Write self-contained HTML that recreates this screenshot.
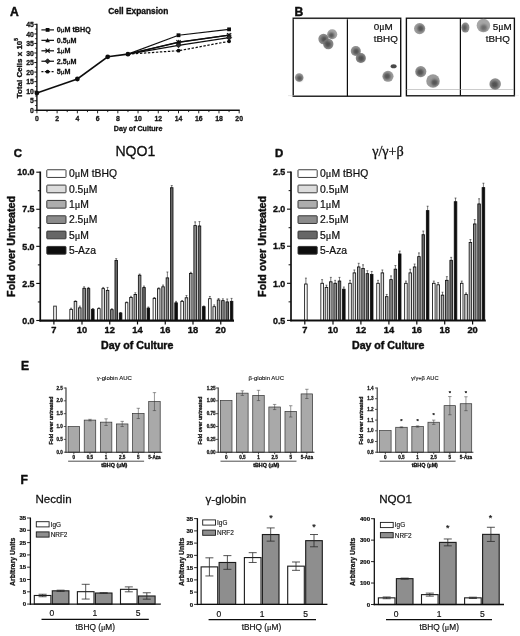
<!DOCTYPE html>
<html><head><meta charset="utf-8"><title>Figure</title>
<style>html,body{margin:0;padding:0;background:#fff;}svg{display:block;font-family:"Liberation Sans",sans-serif;}</style>
</head><body>
<svg width="520" height="636" viewBox="0 0 520 636">
<defs><filter id="soft" x="-30%" y="-30%" width="160%" height="160%"><feGaussianBlur stdDeviation="0.6"/></filter><filter id="soft2" x="-40%" y="-40%" width="180%" height="180%"><feGaussianBlur stdDeviation="1.0"/></filter>
<filter id="jpeg" x="0" y="0" width="100%" height="100%"><feGaussianBlur stdDeviation="0.35"/></filter></defs>
<rect x="0" y="0" width="520" height="636" fill="#ffffff"/>
<g filter="url(#jpeg)">
<text x="9.90" y="15.90" font-size="12.1" font-weight="bold" text-anchor="start" fill="#111" stroke="#111" stroke-width="0.484" stroke-linejoin="round">A</text>
<text x="138.30" y="14.20" font-size="8.4" font-weight="bold" text-anchor="middle" fill="#111" stroke="#111" stroke-width="0.336" stroke-linejoin="round">Cell Expansion</text>
<line x1="36.90" y1="23.85" x2="36.90" y2="111.00" stroke="#111" stroke-width="1.4"/>
<line x1="36.20" y1="110.30" x2="239.70" y2="110.30" stroke="#111" stroke-width="1.4"/>
<line x1="34.30" y1="110.30" x2="36.90" y2="110.30" stroke="#111" stroke-width="1.0"/>
<text x="33.90" y="112.90" font-size="6.9" font-weight="bold" text-anchor="end" fill="#111" stroke="#111" stroke-width="0.276" stroke-linejoin="round">0</text>
<line x1="34.30" y1="100.75" x2="36.90" y2="100.75" stroke="#111" stroke-width="1.0"/>
<text x="33.90" y="103.35" font-size="6.9" font-weight="bold" text-anchor="end" fill="#111" stroke="#111" stroke-width="0.276" stroke-linejoin="round">5</text>
<line x1="34.30" y1="91.20" x2="36.90" y2="91.20" stroke="#111" stroke-width="1.0"/>
<text x="33.90" y="93.80" font-size="6.9" font-weight="bold" text-anchor="end" fill="#111" stroke="#111" stroke-width="0.276" stroke-linejoin="round">10</text>
<line x1="34.30" y1="81.65" x2="36.90" y2="81.65" stroke="#111" stroke-width="1.0"/>
<text x="33.90" y="84.25" font-size="6.9" font-weight="bold" text-anchor="end" fill="#111" stroke="#111" stroke-width="0.276" stroke-linejoin="round">15</text>
<line x1="34.30" y1="72.10" x2="36.90" y2="72.10" stroke="#111" stroke-width="1.0"/>
<text x="33.90" y="74.70" font-size="6.9" font-weight="bold" text-anchor="end" fill="#111" stroke="#111" stroke-width="0.276" stroke-linejoin="round">20</text>
<line x1="34.30" y1="62.55" x2="36.90" y2="62.55" stroke="#111" stroke-width="1.0"/>
<text x="33.90" y="65.15" font-size="6.9" font-weight="bold" text-anchor="end" fill="#111" stroke="#111" stroke-width="0.276" stroke-linejoin="round">25</text>
<line x1="34.30" y1="53.00" x2="36.90" y2="53.00" stroke="#111" stroke-width="1.0"/>
<text x="33.90" y="55.60" font-size="6.9" font-weight="bold" text-anchor="end" fill="#111" stroke="#111" stroke-width="0.276" stroke-linejoin="round">30</text>
<line x1="34.30" y1="43.45" x2="36.90" y2="43.45" stroke="#111" stroke-width="1.0"/>
<text x="33.90" y="46.05" font-size="6.9" font-weight="bold" text-anchor="end" fill="#111" stroke="#111" stroke-width="0.276" stroke-linejoin="round">35</text>
<line x1="34.30" y1="33.90" x2="36.90" y2="33.90" stroke="#111" stroke-width="1.0"/>
<text x="33.90" y="36.50" font-size="6.9" font-weight="bold" text-anchor="end" fill="#111" stroke="#111" stroke-width="0.276" stroke-linejoin="round">40</text>
<line x1="34.30" y1="24.35" x2="36.90" y2="24.35" stroke="#111" stroke-width="1.0"/>
<text x="33.90" y="26.95" font-size="6.9" font-weight="bold" text-anchor="end" fill="#111" stroke="#111" stroke-width="0.276" stroke-linejoin="round">45</text>
<line x1="35.20" y1="105.52" x2="36.90" y2="105.52" stroke="#111" stroke-width="0.9"/>
<line x1="35.20" y1="95.97" x2="36.90" y2="95.97" stroke="#111" stroke-width="0.9"/>
<line x1="35.20" y1="86.42" x2="36.90" y2="86.42" stroke="#111" stroke-width="0.9"/>
<line x1="35.20" y1="76.88" x2="36.90" y2="76.88" stroke="#111" stroke-width="0.9"/>
<line x1="35.20" y1="67.32" x2="36.90" y2="67.32" stroke="#111" stroke-width="0.9"/>
<line x1="35.20" y1="57.77" x2="36.90" y2="57.77" stroke="#111" stroke-width="0.9"/>
<line x1="35.20" y1="48.23" x2="36.90" y2="48.23" stroke="#111" stroke-width="0.9"/>
<line x1="35.20" y1="38.67" x2="36.90" y2="38.67" stroke="#111" stroke-width="0.9"/>
<line x1="35.20" y1="29.12" x2="36.90" y2="29.12" stroke="#111" stroke-width="0.9"/>
<line x1="36.90" y1="110.30" x2="36.90" y2="113.30" stroke="#111" stroke-width="0.9"/>
<text x="36.90" y="120.50" font-size="6.9" font-weight="bold" text-anchor="middle" fill="#111" stroke="#111" stroke-width="0.276" stroke-linejoin="round">0</text>
<line x1="47.02" y1="110.30" x2="47.02" y2="112.10" stroke="#111" stroke-width="0.9"/>
<line x1="57.13" y1="110.30" x2="57.13" y2="113.30" stroke="#111" stroke-width="0.9"/>
<text x="57.13" y="120.50" font-size="6.9" font-weight="bold" text-anchor="middle" fill="#111" stroke="#111" stroke-width="0.276" stroke-linejoin="round">2</text>
<line x1="67.25" y1="110.30" x2="67.25" y2="112.10" stroke="#111" stroke-width="0.9"/>
<line x1="77.36" y1="110.30" x2="77.36" y2="113.30" stroke="#111" stroke-width="0.9"/>
<text x="77.36" y="120.50" font-size="6.9" font-weight="bold" text-anchor="middle" fill="#111" stroke="#111" stroke-width="0.276" stroke-linejoin="round">4</text>
<line x1="87.47" y1="110.30" x2="87.47" y2="112.10" stroke="#111" stroke-width="0.9"/>
<line x1="97.59" y1="110.30" x2="97.59" y2="113.30" stroke="#111" stroke-width="0.9"/>
<text x="97.59" y="120.50" font-size="6.9" font-weight="bold" text-anchor="middle" fill="#111" stroke="#111" stroke-width="0.276" stroke-linejoin="round">6</text>
<line x1="107.71" y1="110.30" x2="107.71" y2="112.10" stroke="#111" stroke-width="0.9"/>
<line x1="117.82" y1="110.30" x2="117.82" y2="113.30" stroke="#111" stroke-width="0.9"/>
<text x="117.82" y="120.50" font-size="6.9" font-weight="bold" text-anchor="middle" fill="#111" stroke="#111" stroke-width="0.276" stroke-linejoin="round">8</text>
<line x1="127.94" y1="110.30" x2="127.94" y2="112.10" stroke="#111" stroke-width="0.9"/>
<line x1="138.05" y1="110.30" x2="138.05" y2="113.30" stroke="#111" stroke-width="0.9"/>
<text x="138.05" y="120.50" font-size="6.9" font-weight="bold" text-anchor="middle" fill="#111" stroke="#111" stroke-width="0.276" stroke-linejoin="round">10</text>
<line x1="148.16" y1="110.30" x2="148.16" y2="112.10" stroke="#111" stroke-width="0.9"/>
<line x1="158.28" y1="110.30" x2="158.28" y2="113.30" stroke="#111" stroke-width="0.9"/>
<text x="158.28" y="120.50" font-size="6.9" font-weight="bold" text-anchor="middle" fill="#111" stroke="#111" stroke-width="0.276" stroke-linejoin="round">12</text>
<line x1="168.40" y1="110.30" x2="168.40" y2="112.10" stroke="#111" stroke-width="0.9"/>
<line x1="178.51" y1="110.30" x2="178.51" y2="113.30" stroke="#111" stroke-width="0.9"/>
<text x="178.51" y="120.50" font-size="6.9" font-weight="bold" text-anchor="middle" fill="#111" stroke="#111" stroke-width="0.276" stroke-linejoin="round">14</text>
<line x1="188.62" y1="110.30" x2="188.62" y2="112.10" stroke="#111" stroke-width="0.9"/>
<line x1="198.74" y1="110.30" x2="198.74" y2="113.30" stroke="#111" stroke-width="0.9"/>
<text x="198.74" y="120.50" font-size="6.9" font-weight="bold" text-anchor="middle" fill="#111" stroke="#111" stroke-width="0.276" stroke-linejoin="round">16</text>
<line x1="208.86" y1="110.30" x2="208.86" y2="112.10" stroke="#111" stroke-width="0.9"/>
<line x1="218.97" y1="110.30" x2="218.97" y2="113.30" stroke="#111" stroke-width="0.9"/>
<text x="218.97" y="120.50" font-size="6.9" font-weight="bold" text-anchor="middle" fill="#111" stroke="#111" stroke-width="0.276" stroke-linejoin="round">18</text>
<line x1="229.09" y1="110.30" x2="229.09" y2="112.10" stroke="#111" stroke-width="0.9"/>
<line x1="239.20" y1="110.30" x2="239.20" y2="113.30" stroke="#111" stroke-width="0.9"/>
<text x="239.20" y="120.50" font-size="6.9" font-weight="bold" text-anchor="middle" fill="#111" stroke="#111" stroke-width="0.276" stroke-linejoin="round">20</text>
<text x="138.10" y="130.50" font-size="7.1" font-weight="bold" text-anchor="middle" fill="#111" stroke="#111" stroke-width="0.284" stroke-linejoin="round">Day of Culture</text>
<text x="21.90" y="68.20" font-size="8.0" font-weight="bold" text-anchor="middle" fill="#111" transform="rotate(-90 21.90 68.20)" stroke="#111" stroke-width="0.320" stroke-linejoin="round">Total Cells x 10<tspan font-size="4.8" dy="-3.4">5</tspan></text>
<polyline points="36.90,93.11 77.36,78.98 107.71,56.82 127.94,54.15" fill="none" stroke="#111" stroke-width="1.6"/>
<polyline points="127.94,54.15 178.51,35.24 229.09,29.32" fill="none" stroke="#111" stroke-width="1.25"/>
<polyline points="127.94,54.15 178.51,42.02 229.09,35.05" fill="none" stroke="#111" stroke-width="1.25"/>
<polyline points="127.94,54.15 178.51,42.30 229.09,35.24" fill="none" stroke="#111" stroke-width="1.25"/>
<polyline points="127.94,54.15 178.51,45.26 229.09,37.72" fill="none" stroke="#111" stroke-width="1.25"/>
<polyline points="127.94,54.15 178.51,50.71 229.09,41.35" fill="none" stroke="#111" stroke-width="1.25" stroke-dasharray="2.4 1.6"/>
<circle cx="36.90" cy="93.11" r="2.4" fill="#111"/>
<circle cx="77.36" cy="78.98" r="2.4" fill="#111"/>
<circle cx="107.71" cy="56.82" r="2.4" fill="#111"/>
<circle cx="127.94" cy="54.15" r="2.4" fill="#111"/>
<rect x="176.61" y="33.34" width="3.8" height="3.8" fill="#111"/>
<rect x="227.19" y="27.42" width="3.8" height="3.8" fill="#111"/>
<polygon points="178.51,39.62 176.21,43.82 180.81,43.82" fill="#111"/>
<polygon points="229.09,32.65 226.78,36.85 231.39,36.85" fill="#111"/>
<line x1="176.41" y1="40.20" x2="180.61" y2="44.40" stroke="#111" stroke-width="1.1"/>
<line x1="176.41" y1="44.40" x2="180.61" y2="40.20" stroke="#111" stroke-width="1.1"/>
<line x1="176.11" y1="42.30" x2="180.91" y2="42.30" stroke="#111" stroke-width="0.8"/>
<line x1="226.99" y1="33.14" x2="231.19" y2="37.34" stroke="#111" stroke-width="1.1"/>
<line x1="226.99" y1="37.34" x2="231.19" y2="33.14" stroke="#111" stroke-width="1.1"/>
<line x1="226.69" y1="35.24" x2="231.49" y2="35.24" stroke="#111" stroke-width="0.8"/>
<polygon points="178.51,42.76 176.01,45.26 178.51,47.76 181.01,45.26" fill="#2a2a2a" stroke="#111" stroke-width="0.8"/>
<polygon points="229.09,35.22 226.59,37.72 229.09,40.22 231.59,37.72" fill="#2a2a2a" stroke="#111" stroke-width="0.8"/>
<circle cx="178.51" cy="50.71" r="1.9" fill="#111"/>
<circle cx="229.09" cy="41.35" r="1.9" fill="#111"/>
<line x1="41.40" y1="29.90" x2="54.00" y2="29.90" stroke="#111" stroke-width="1.2"/>
<rect x="45.70" y="28.00" width="3.8" height="3.8" fill="#111"/>
<text x="56.70" y="32.45" font-size="7.15" font-weight="bold" text-anchor="start" fill="#111" stroke="#111" stroke-width="0.286" stroke-linejoin="round">0<tspan font-family="Liberation Serif, serif" font-weight="normal">&#956;</tspan>M tBHQ</text>
<line x1="41.40" y1="40.35" x2="54.00" y2="40.35" stroke="#111" stroke-width="1.2"/>
<polygon points="47.60,37.95 45.30,42.15 49.90,42.15" fill="#111"/>
<text x="56.70" y="42.90" font-size="7.15" font-weight="bold" text-anchor="start" fill="#111" stroke="#111" stroke-width="0.286" stroke-linejoin="round">0.5<tspan font-family="Liberation Serif, serif" font-weight="normal">&#956;</tspan>M</text>
<line x1="41.40" y1="50.80" x2="54.00" y2="50.80" stroke="#111" stroke-width="1.2"/>
<line x1="45.50" y1="48.70" x2="49.70" y2="52.90" stroke="#111" stroke-width="1.1"/>
<line x1="45.50" y1="52.90" x2="49.70" y2="48.70" stroke="#111" stroke-width="1.1"/>
<line x1="45.20" y1="50.80" x2="50.00" y2="50.80" stroke="#111" stroke-width="0.8"/>
<text x="56.70" y="53.35" font-size="7.15" font-weight="bold" text-anchor="start" fill="#111" stroke="#111" stroke-width="0.286" stroke-linejoin="round">1<tspan font-family="Liberation Serif, serif" font-weight="normal">&#956;</tspan>M</text>
<line x1="41.40" y1="61.25" x2="54.00" y2="61.25" stroke="#111" stroke-width="1.2"/>
<polygon points="47.60,58.75 45.10,61.25 47.60,63.75 50.10,61.25" fill="#2a2a2a" stroke="#111" stroke-width="0.8"/>
<text x="56.70" y="63.80" font-size="7.15" font-weight="bold" text-anchor="start" fill="#111" stroke="#111" stroke-width="0.286" stroke-linejoin="round">2.5<tspan font-family="Liberation Serif, serif" font-weight="normal">&#956;</tspan>M</text>
<line x1="41.40" y1="71.70" x2="54.00" y2="71.70" stroke="#111" stroke-width="1.2" stroke-dasharray="2 1.4"/>
<circle cx="47.60" cy="71.70" r="1.9" fill="#111"/>
<text x="56.70" y="74.25" font-size="7.15" font-weight="bold" text-anchor="start" fill="#111" stroke="#111" stroke-width="0.286" stroke-linejoin="round">5<tspan font-family="Liberation Serif, serif" font-weight="normal">&#956;</tspan>M</text>
<text x="294.40" y="15.90" font-size="12.1" font-weight="bold" text-anchor="start" fill="#111" stroke="#111" stroke-width="0.484" stroke-linejoin="round">B</text>
<rect x="293.20" y="18.20" width="107.50" height="78.00" fill="none" stroke="#111" stroke-width="1.35"/>
<line x1="347.40" y1="18.20" x2="347.40" y2="96.20" stroke="#111" stroke-width="1.2"/>
<line x1="293.50" y1="19.60" x2="400.50" y2="19.60" stroke="#ddd" stroke-width="0.4"/>
<line x1="288.00" y1="95.60" x2="294.00" y2="95.60" stroke="#ccc" stroke-width="0.5"/>
<circle cx="299.20" cy="77.50" r="4.25" fill="#8a8a8a" opacity="0.88" filter="url(#soft)"/>
<circle cx="299.50" cy="78.30" r="2.70" fill="#3c3c3c" opacity="0.75" filter="url(#soft2)"/>
<circle cx="323.50" cy="39.00" r="5.15" fill="#7d7d7d" opacity="0.88" filter="url(#soft)"/>
<circle cx="324.10" cy="39.20" r="2.90" fill="#3c3c3c" opacity="0.75" filter="url(#soft2)"/>
<circle cx="328.30" cy="44.00" r="5.15" fill="#7a7a7a" opacity="0.88" filter="url(#soft)"/>
<circle cx="327.90" cy="44.30" r="3.10" fill="#3c3c3c" opacity="0.75" filter="url(#soft2)"/>
<circle cx="332.20" cy="34.30" r="5.05" fill="#999" opacity="0.88" filter="url(#soft)"/>
<circle cx="331.40" cy="35.30" r="2.80" fill="#3c3c3c" opacity="0.75" filter="url(#soft2)"/>
<circle cx="355.80" cy="51.00" r="5.05" fill="#858585" opacity="0.88" filter="url(#soft)"/>
<circle cx="356.20" cy="51.50" r="3.00" fill="#3c3c3c" opacity="0.75" filter="url(#soft2)"/>
<circle cx="360.80" cy="58.00" r="5.05" fill="#777" opacity="0.88" filter="url(#soft)"/>
<circle cx="361.10" cy="58.30" r="3.10" fill="#3c3c3c" opacity="0.75" filter="url(#soft2)"/>
<circle cx="388.00" cy="76.30" r="5.55" fill="#909090" opacity="0.88" filter="url(#soft)"/>
<circle cx="387.20" cy="76.30" r="3.30" fill="#3c3c3c" opacity="0.75" filter="url(#soft2)"/>
<ellipse cx="393.6" cy="66.2" rx="3.0" ry="2.0" fill="#4a4a4a" filter="url(#soft)"/>
<text x="373.80" y="30.40" font-size="9.9" font-weight="normal" text-anchor="start" fill="#111" stroke="#111" stroke-width="0.218" stroke-linejoin="round">0<tspan font-family="Liberation Serif, serif" font-weight="normal">&#956;</tspan>M</text>
<text x="373.80" y="42.20" font-size="9.8" font-weight="normal" text-anchor="start" fill="#111" stroke="#111" stroke-width="0.216" stroke-linejoin="round">tBHQ</text>
<rect x="406.40" y="18.20" width="108.00" height="77.60" fill="none" stroke="#111" stroke-width="1.35"/>
<line x1="460.40" y1="18.20" x2="460.40" y2="95.80" stroke="#111" stroke-width="1.2"/>
<line x1="406.50" y1="89.50" x2="514.00" y2="89.50" stroke="#aaa" stroke-width="0.6"/>
<line x1="514.60" y1="95.40" x2="519.00" y2="95.40" stroke="#ddd" stroke-width="0.5"/>
<circle cx="419.60" cy="28.60" r="5.55" fill="#8f8f8f" opacity="0.88" filter="url(#soft)"/>
<circle cx="420.60" cy="28.40" r="3.10" fill="#3c3c3c" opacity="0.75" filter="url(#soft2)"/>
<circle cx="420.80" cy="71.60" r="5.55" fill="#858585" opacity="0.88" filter="url(#soft)"/>
<circle cx="420.20" cy="72.20" r="3.30" fill="#3c3c3c" opacity="0.75" filter="url(#soft2)"/>
<circle cx="433.00" cy="81.00" r="6.75" fill="#8c8c8c" opacity="0.88" filter="url(#soft)"/>
<circle cx="434.60" cy="82.60" r="3.30" fill="#3c3c3c" opacity="0.75" filter="url(#soft2)"/>
<ellipse cx="465.4" cy="27.6" rx="4.0" ry="5.0" fill="#858585" opacity="0.9" filter="url(#soft)"/>
<ellipse cx="464.6" cy="27.8" rx="2.2" ry="3.2" fill="#484848" opacity="0.8" filter="url(#soft2)"/>
<circle cx="483.40" cy="25.40" r="6.75" fill="#9a9a9a" opacity="0.88" filter="url(#soft)"/>
<circle cx="483.70" cy="27.80" r="3.30" fill="#5a5a5a" opacity="0.75" filter="url(#soft2)"/>
<circle cx="495.20" cy="84.00" r="5.75" fill="#7f7f7f" opacity="0.88" filter="url(#soft)"/>
<circle cx="494.60" cy="84.60" r="3.50" fill="#3c3c3c" opacity="0.75" filter="url(#soft2)"/>
<text x="492.80" y="30.40" font-size="9.9" font-weight="normal" text-anchor="start" fill="#111" stroke="#111" stroke-width="0.218" stroke-linejoin="round">5<tspan font-family="Liberation Serif, serif" font-weight="normal">&#956;</tspan>M</text>
<text x="485.80" y="42.20" font-size="9.8" font-weight="normal" text-anchor="start" fill="#111" stroke="#111" stroke-width="0.216" stroke-linejoin="round">tBHQ</text>
<text x="13.70" y="157.40" font-size="11.4" font-weight="bold" text-anchor="start" fill="#111" stroke="#111" stroke-width="0.456" stroke-linejoin="round">C</text>
<text x="135.40" y="155.70" font-size="14.1" font-weight="normal" text-anchor="middle" fill="#111" stroke="#111" stroke-width="0.310" stroke-linejoin="round">NQO1</text>
<rect x="53.73" y="306.11" width="2.55" height="14.39" fill="#ffffff" stroke="#141414" stroke-width="0.85"/>
<line x1="71.12" y1="308.19" x2="71.12" y2="309.38" stroke="#111" stroke-width="0.55"/>
<line x1="70.17" y1="308.19" x2="72.08" y2="308.19" stroke="#111" stroke-width="0.55"/>
<line x1="70.17" y1="309.38" x2="72.08" y2="309.38" stroke="#111" stroke-width="0.55"/>
<rect x="69.85" y="309.38" width="2.55" height="11.12" fill="#ffffff" stroke="#141414" stroke-width="0.85"/>
<line x1="75.47" y1="300.78" x2="75.47" y2="301.52" stroke="#111" stroke-width="0.55"/>
<line x1="74.52" y1="300.78" x2="76.42" y2="300.78" stroke="#111" stroke-width="0.55"/>
<line x1="74.52" y1="301.52" x2="76.42" y2="301.52" stroke="#111" stroke-width="0.55"/>
<rect x="74.19" y="301.52" width="2.55" height="18.98" fill="#dcdcdc" stroke="#141414" stroke-width="0.85"/>
<line x1="79.81" y1="306.11" x2="79.81" y2="307.89" stroke="#111" stroke-width="0.55"/>
<line x1="78.86" y1="306.11" x2="80.76" y2="306.11" stroke="#111" stroke-width="0.55"/>
<line x1="78.86" y1="307.89" x2="80.76" y2="307.89" stroke="#111" stroke-width="0.55"/>
<rect x="78.53" y="307.89" width="2.55" height="12.61" fill="#adadad" stroke="#141414" stroke-width="0.85"/>
<line x1="84.14" y1="286.84" x2="84.14" y2="288.32" stroke="#111" stroke-width="0.55"/>
<line x1="83.19" y1="286.84" x2="85.09" y2="286.84" stroke="#111" stroke-width="0.55"/>
<line x1="83.19" y1="288.32" x2="85.09" y2="288.32" stroke="#111" stroke-width="0.55"/>
<rect x="82.87" y="288.32" width="2.55" height="32.18" fill="#8b8b8b" stroke="#141414" stroke-width="0.85"/>
<line x1="88.48" y1="287.43" x2="88.48" y2="288.62" stroke="#111" stroke-width="0.55"/>
<line x1="87.53" y1="287.43" x2="89.44" y2="287.43" stroke="#111" stroke-width="0.55"/>
<line x1="87.53" y1="288.62" x2="89.44" y2="288.62" stroke="#111" stroke-width="0.55"/>
<rect x="87.21" y="288.62" width="2.55" height="31.88" fill="#666666" stroke="#141414" stroke-width="0.85"/>
<line x1="92.83" y1="308.49" x2="92.83" y2="309.38" stroke="#111" stroke-width="0.55"/>
<line x1="91.88" y1="308.49" x2="93.78" y2="308.49" stroke="#111" stroke-width="0.55"/>
<line x1="91.88" y1="309.38" x2="93.78" y2="309.38" stroke="#111" stroke-width="0.55"/>
<rect x="91.55" y="309.38" width="2.55" height="11.12" fill="#0a0a0a" stroke="#141414" stroke-width="0.85"/>
<line x1="98.88" y1="307.89" x2="98.88" y2="308.64" stroke="#111" stroke-width="0.55"/>
<line x1="97.92" y1="307.89" x2="99.83" y2="307.89" stroke="#111" stroke-width="0.55"/>
<line x1="97.92" y1="308.64" x2="99.83" y2="308.64" stroke="#111" stroke-width="0.55"/>
<rect x="97.60" y="308.64" width="2.55" height="11.86" fill="#ffffff" stroke="#141414" stroke-width="0.85"/>
<line x1="103.22" y1="287.43" x2="103.22" y2="288.62" stroke="#111" stroke-width="0.55"/>
<line x1="102.27" y1="287.43" x2="104.17" y2="287.43" stroke="#111" stroke-width="0.55"/>
<line x1="102.27" y1="288.62" x2="104.17" y2="288.62" stroke="#111" stroke-width="0.55"/>
<rect x="101.94" y="288.62" width="2.55" height="31.88" fill="#dcdcdc" stroke="#141414" stroke-width="0.85"/>
<line x1="107.56" y1="287.43" x2="107.56" y2="290.40" stroke="#111" stroke-width="0.55"/>
<line x1="106.61" y1="287.43" x2="108.51" y2="287.43" stroke="#111" stroke-width="0.55"/>
<line x1="106.61" y1="290.40" x2="108.51" y2="290.40" stroke="#111" stroke-width="0.55"/>
<rect x="106.28" y="290.40" width="2.55" height="30.10" fill="#adadad" stroke="#141414" stroke-width="0.85"/>
<line x1="111.89" y1="308.78" x2="111.89" y2="309.67" stroke="#111" stroke-width="0.55"/>
<line x1="110.94" y1="308.78" x2="112.84" y2="308.78" stroke="#111" stroke-width="0.55"/>
<line x1="110.94" y1="309.67" x2="112.84" y2="309.67" stroke="#111" stroke-width="0.55"/>
<rect x="110.62" y="309.67" width="2.55" height="10.83" fill="#8b8b8b" stroke="#141414" stroke-width="0.85"/>
<line x1="116.23" y1="258.66" x2="116.23" y2="260.44" stroke="#111" stroke-width="0.55"/>
<line x1="115.28" y1="258.66" x2="117.19" y2="258.66" stroke="#111" stroke-width="0.55"/>
<line x1="115.28" y1="260.44" x2="117.19" y2="260.44" stroke="#111" stroke-width="0.55"/>
<rect x="114.96" y="260.44" width="2.55" height="60.06" fill="#666666" stroke="#141414" stroke-width="0.85"/>
<line x1="120.58" y1="312.49" x2="120.58" y2="313.08" stroke="#111" stroke-width="0.55"/>
<line x1="119.62" y1="312.49" x2="121.53" y2="312.49" stroke="#111" stroke-width="0.55"/>
<line x1="119.62" y1="313.08" x2="121.53" y2="313.08" stroke="#111" stroke-width="0.55"/>
<rect x="119.30" y="313.08" width="2.55" height="7.42" fill="#0a0a0a" stroke="#141414" stroke-width="0.85"/>
<line x1="126.62" y1="301.96" x2="126.62" y2="302.70" stroke="#111" stroke-width="0.55"/>
<line x1="125.67" y1="301.96" x2="127.58" y2="301.96" stroke="#111" stroke-width="0.55"/>
<line x1="125.67" y1="302.70" x2="127.58" y2="302.70" stroke="#111" stroke-width="0.55"/>
<rect x="125.35" y="302.70" width="2.55" height="17.80" fill="#ffffff" stroke="#141414" stroke-width="0.85"/>
<line x1="130.97" y1="296.33" x2="130.97" y2="297.51" stroke="#111" stroke-width="0.55"/>
<line x1="130.02" y1="296.33" x2="131.91" y2="296.33" stroke="#111" stroke-width="0.55"/>
<line x1="130.02" y1="297.51" x2="131.91" y2="297.51" stroke="#111" stroke-width="0.55"/>
<rect x="129.69" y="297.51" width="2.55" height="22.99" fill="#dcdcdc" stroke="#141414" stroke-width="0.85"/>
<line x1="135.31" y1="292.77" x2="135.31" y2="294.55" stroke="#111" stroke-width="0.55"/>
<line x1="134.36" y1="292.77" x2="136.25" y2="292.77" stroke="#111" stroke-width="0.55"/>
<line x1="134.36" y1="294.55" x2="136.25" y2="294.55" stroke="#111" stroke-width="0.55"/>
<rect x="134.03" y="294.55" width="2.55" height="25.95" fill="#adadad" stroke="#141414" stroke-width="0.85"/>
<line x1="139.65" y1="274.08" x2="139.65" y2="275.27" stroke="#111" stroke-width="0.55"/>
<line x1="138.70" y1="274.08" x2="140.59" y2="274.08" stroke="#111" stroke-width="0.55"/>
<line x1="138.70" y1="275.27" x2="140.59" y2="275.27" stroke="#111" stroke-width="0.55"/>
<rect x="138.37" y="275.27" width="2.55" height="45.23" fill="#8b8b8b" stroke="#141414" stroke-width="0.85"/>
<line x1="143.98" y1="286.09" x2="143.98" y2="287.58" stroke="#111" stroke-width="0.55"/>
<line x1="143.03" y1="286.09" x2="144.93" y2="286.09" stroke="#111" stroke-width="0.55"/>
<line x1="143.03" y1="287.58" x2="144.93" y2="287.58" stroke="#111" stroke-width="0.55"/>
<rect x="142.71" y="287.58" width="2.55" height="32.92" fill="#666666" stroke="#141414" stroke-width="0.85"/>
<line x1="148.32" y1="307.00" x2="148.32" y2="308.19" stroke="#111" stroke-width="0.55"/>
<line x1="147.38" y1="307.00" x2="149.27" y2="307.00" stroke="#111" stroke-width="0.55"/>
<line x1="147.38" y1="308.19" x2="149.27" y2="308.19" stroke="#111" stroke-width="0.55"/>
<rect x="147.05" y="308.19" width="2.55" height="12.31" fill="#0a0a0a" stroke="#141414" stroke-width="0.85"/>
<line x1="154.38" y1="297.51" x2="154.38" y2="298.40" stroke="#111" stroke-width="0.55"/>
<line x1="153.43" y1="297.51" x2="155.32" y2="297.51" stroke="#111" stroke-width="0.55"/>
<line x1="153.43" y1="298.40" x2="155.32" y2="298.40" stroke="#111" stroke-width="0.55"/>
<rect x="153.10" y="298.40" width="2.55" height="22.10" fill="#ffffff" stroke="#141414" stroke-width="0.85"/>
<line x1="158.72" y1="287.87" x2="158.72" y2="288.76" stroke="#111" stroke-width="0.55"/>
<line x1="157.77" y1="287.87" x2="159.66" y2="287.87" stroke="#111" stroke-width="0.55"/>
<line x1="157.77" y1="288.76" x2="159.66" y2="288.76" stroke="#111" stroke-width="0.55"/>
<rect x="157.44" y="288.76" width="2.55" height="31.74" fill="#dcdcdc" stroke="#141414" stroke-width="0.85"/>
<line x1="163.06" y1="285.06" x2="163.06" y2="286.84" stroke="#111" stroke-width="0.55"/>
<line x1="162.11" y1="285.06" x2="164.00" y2="285.06" stroke="#111" stroke-width="0.55"/>
<line x1="162.11" y1="286.84" x2="164.00" y2="286.84" stroke="#111" stroke-width="0.55"/>
<rect x="161.78" y="286.84" width="2.55" height="33.66" fill="#adadad" stroke="#141414" stroke-width="0.85"/>
<line x1="167.40" y1="272.01" x2="167.40" y2="277.94" stroke="#111" stroke-width="0.55"/>
<line x1="166.45" y1="272.01" x2="168.34" y2="272.01" stroke="#111" stroke-width="0.55"/>
<line x1="166.45" y1="277.94" x2="168.34" y2="277.94" stroke="#111" stroke-width="0.55"/>
<rect x="166.12" y="277.94" width="2.55" height="42.56" fill="#8b8b8b" stroke="#141414" stroke-width="0.85"/>
<line x1="171.73" y1="185.55" x2="171.73" y2="187.77" stroke="#111" stroke-width="0.55"/>
<line x1="170.78" y1="185.55" x2="172.68" y2="185.55" stroke="#111" stroke-width="0.55"/>
<line x1="170.78" y1="187.77" x2="172.68" y2="187.77" stroke="#111" stroke-width="0.55"/>
<rect x="170.46" y="187.77" width="2.55" height="132.73" fill="#666666" stroke="#141414" stroke-width="0.85"/>
<line x1="176.07" y1="301.37" x2="176.07" y2="302.85" stroke="#111" stroke-width="0.55"/>
<line x1="175.12" y1="301.37" x2="177.02" y2="301.37" stroke="#111" stroke-width="0.55"/>
<line x1="175.12" y1="302.85" x2="177.02" y2="302.85" stroke="#111" stroke-width="0.55"/>
<rect x="174.80" y="302.85" width="2.55" height="17.65" fill="#0a0a0a" stroke="#141414" stroke-width="0.85"/>
<line x1="182.12" y1="300.48" x2="182.12" y2="301.37" stroke="#111" stroke-width="0.55"/>
<line x1="181.18" y1="300.48" x2="183.07" y2="300.48" stroke="#111" stroke-width="0.55"/>
<line x1="181.18" y1="301.37" x2="183.07" y2="301.37" stroke="#111" stroke-width="0.55"/>
<rect x="180.85" y="301.37" width="2.55" height="19.13" fill="#ffffff" stroke="#141414" stroke-width="0.85"/>
<line x1="186.47" y1="295.59" x2="186.47" y2="297.81" stroke="#111" stroke-width="0.55"/>
<line x1="185.52" y1="295.59" x2="187.41" y2="295.59" stroke="#111" stroke-width="0.55"/>
<line x1="185.52" y1="297.81" x2="187.41" y2="297.81" stroke="#111" stroke-width="0.55"/>
<rect x="185.19" y="297.81" width="2.55" height="22.69" fill="#dcdcdc" stroke="#141414" stroke-width="0.85"/>
<line x1="190.81" y1="272.30" x2="190.81" y2="273.49" stroke="#111" stroke-width="0.55"/>
<line x1="189.86" y1="272.30" x2="191.75" y2="272.30" stroke="#111" stroke-width="0.55"/>
<line x1="189.86" y1="273.49" x2="191.75" y2="273.49" stroke="#111" stroke-width="0.55"/>
<rect x="189.53" y="273.49" width="2.55" height="47.01" fill="#adadad" stroke="#141414" stroke-width="0.85"/>
<line x1="195.15" y1="221.88" x2="195.15" y2="225.59" stroke="#111" stroke-width="0.55"/>
<line x1="194.20" y1="221.88" x2="196.09" y2="221.88" stroke="#111" stroke-width="0.55"/>
<line x1="194.20" y1="225.59" x2="196.09" y2="225.59" stroke="#111" stroke-width="0.55"/>
<rect x="193.87" y="225.59" width="2.55" height="94.91" fill="#8b8b8b" stroke="#141414" stroke-width="0.85"/>
<line x1="199.48" y1="221.58" x2="199.48" y2="226.03" stroke="#111" stroke-width="0.55"/>
<line x1="198.53" y1="221.58" x2="200.43" y2="221.58" stroke="#111" stroke-width="0.55"/>
<line x1="198.53" y1="226.03" x2="200.43" y2="226.03" stroke="#111" stroke-width="0.55"/>
<rect x="198.21" y="226.03" width="2.55" height="94.47" fill="#666666" stroke="#141414" stroke-width="0.85"/>
<line x1="203.82" y1="305.97" x2="203.82" y2="306.71" stroke="#111" stroke-width="0.55"/>
<line x1="202.88" y1="305.97" x2="204.77" y2="305.97" stroke="#111" stroke-width="0.55"/>
<line x1="202.88" y1="306.71" x2="204.77" y2="306.71" stroke="#111" stroke-width="0.55"/>
<rect x="202.55" y="306.71" width="2.55" height="13.79" fill="#0a0a0a" stroke="#141414" stroke-width="0.85"/>
<line x1="209.88" y1="296.48" x2="209.88" y2="298.70" stroke="#111" stroke-width="0.55"/>
<line x1="208.93" y1="296.48" x2="210.82" y2="296.48" stroke="#111" stroke-width="0.55"/>
<line x1="208.93" y1="298.70" x2="210.82" y2="298.70" stroke="#111" stroke-width="0.55"/>
<rect x="208.60" y="298.70" width="2.55" height="21.80" fill="#ffffff" stroke="#141414" stroke-width="0.85"/>
<line x1="214.22" y1="304.93" x2="214.22" y2="306.71" stroke="#111" stroke-width="0.55"/>
<line x1="213.27" y1="304.93" x2="215.16" y2="304.93" stroke="#111" stroke-width="0.55"/>
<line x1="213.27" y1="306.71" x2="215.16" y2="306.71" stroke="#111" stroke-width="0.55"/>
<rect x="212.94" y="306.71" width="2.55" height="13.79" fill="#dcdcdc" stroke="#141414" stroke-width="0.85"/>
<line x1="218.56" y1="298.55" x2="218.56" y2="300.03" stroke="#111" stroke-width="0.55"/>
<line x1="217.61" y1="298.55" x2="219.50" y2="298.55" stroke="#111" stroke-width="0.55"/>
<line x1="217.61" y1="300.03" x2="219.50" y2="300.03" stroke="#111" stroke-width="0.55"/>
<rect x="217.28" y="300.03" width="2.55" height="20.47" fill="#adadad" stroke="#141414" stroke-width="0.85"/>
<line x1="222.90" y1="298.85" x2="222.90" y2="300.63" stroke="#111" stroke-width="0.55"/>
<line x1="221.95" y1="298.85" x2="223.84" y2="298.85" stroke="#111" stroke-width="0.55"/>
<line x1="221.95" y1="300.63" x2="223.84" y2="300.63" stroke="#111" stroke-width="0.55"/>
<rect x="221.62" y="300.63" width="2.55" height="19.87" fill="#8b8b8b" stroke="#141414" stroke-width="0.85"/>
<line x1="227.23" y1="299.00" x2="227.23" y2="301.96" stroke="#111" stroke-width="0.55"/>
<line x1="226.28" y1="299.00" x2="228.18" y2="299.00" stroke="#111" stroke-width="0.55"/>
<line x1="226.28" y1="301.96" x2="228.18" y2="301.96" stroke="#111" stroke-width="0.55"/>
<rect x="225.96" y="301.96" width="2.55" height="18.54" fill="#666666" stroke="#141414" stroke-width="0.85"/>
<line x1="231.57" y1="298.40" x2="231.57" y2="301.37" stroke="#111" stroke-width="0.55"/>
<line x1="230.62" y1="298.40" x2="232.52" y2="298.40" stroke="#111" stroke-width="0.55"/>
<line x1="230.62" y1="301.37" x2="232.52" y2="301.37" stroke="#111" stroke-width="0.55"/>
<rect x="230.30" y="301.37" width="2.55" height="19.13" fill="#0a0a0a" stroke="#141414" stroke-width="0.85"/>
<line x1="40.25" y1="171.50" x2="40.25" y2="321.40" stroke="#111" stroke-width="1.7"/>
<line x1="39.40" y1="320.60" x2="234.00" y2="320.60" stroke="#111" stroke-width="2.1"/>
<line x1="36.25" y1="320.50" x2="40.25" y2="320.50" stroke="#111" stroke-width="1.1"/>
<text x="34.55" y="323.70" font-size="8.9" font-weight="bold" text-anchor="end" fill="#111" stroke="#111" stroke-width="0.356" stroke-linejoin="round">0.0</text>
<line x1="36.25" y1="283.43" x2="40.25" y2="283.43" stroke="#111" stroke-width="1.1"/>
<text x="34.55" y="286.62" font-size="8.9" font-weight="bold" text-anchor="end" fill="#111" stroke="#111" stroke-width="0.356" stroke-linejoin="round">2.5</text>
<line x1="36.25" y1="246.35" x2="40.25" y2="246.35" stroke="#111" stroke-width="1.1"/>
<text x="34.55" y="249.55" font-size="8.9" font-weight="bold" text-anchor="end" fill="#111" stroke="#111" stroke-width="0.356" stroke-linejoin="round">5.0</text>
<line x1="36.25" y1="209.28" x2="40.25" y2="209.28" stroke="#111" stroke-width="1.1"/>
<text x="34.55" y="212.47" font-size="8.9" font-weight="bold" text-anchor="end" fill="#111" stroke="#111" stroke-width="0.356" stroke-linejoin="round">7.5</text>
<line x1="36.25" y1="172.20" x2="40.25" y2="172.20" stroke="#111" stroke-width="1.1"/>
<text x="34.55" y="175.40" font-size="8.9" font-weight="bold" text-anchor="end" fill="#111" stroke="#111" stroke-width="0.356" stroke-linejoin="round">10.0</text>
<line x1="37.85" y1="301.96" x2="40.25" y2="301.96" stroke="#111" stroke-width="1.0"/>
<line x1="37.85" y1="264.89" x2="40.25" y2="264.89" stroke="#111" stroke-width="1.0"/>
<line x1="37.85" y1="227.81" x2="40.25" y2="227.81" stroke="#111" stroke-width="1.0"/>
<line x1="37.85" y1="190.74" x2="40.25" y2="190.74" stroke="#111" stroke-width="1.0"/>
<line x1="53.90" y1="320.50" x2="53.90" y2="324.50" stroke="#111" stroke-width="1.2"/>
<text x="53.90" y="333.10" font-size="9.3" font-weight="bold" text-anchor="middle" fill="#111" stroke="#111" stroke-width="0.372" stroke-linejoin="round">7</text>
<line x1="82.00" y1="320.50" x2="82.00" y2="324.50" stroke="#111" stroke-width="1.2"/>
<text x="82.00" y="333.10" font-size="9.3" font-weight="bold" text-anchor="middle" fill="#111" stroke="#111" stroke-width="0.372" stroke-linejoin="round">10</text>
<line x1="109.75" y1="320.50" x2="109.75" y2="324.50" stroke="#111" stroke-width="1.2"/>
<text x="109.75" y="333.10" font-size="9.3" font-weight="bold" text-anchor="middle" fill="#111" stroke="#111" stroke-width="0.372" stroke-linejoin="round">12</text>
<line x1="137.50" y1="320.50" x2="137.50" y2="324.50" stroke="#111" stroke-width="1.2"/>
<text x="137.50" y="333.10" font-size="9.3" font-weight="bold" text-anchor="middle" fill="#111" stroke="#111" stroke-width="0.372" stroke-linejoin="round">14</text>
<line x1="165.25" y1="320.50" x2="165.25" y2="324.50" stroke="#111" stroke-width="1.2"/>
<text x="165.25" y="333.10" font-size="9.3" font-weight="bold" text-anchor="middle" fill="#111" stroke="#111" stroke-width="0.372" stroke-linejoin="round">16</text>
<line x1="193.00" y1="320.50" x2="193.00" y2="324.50" stroke="#111" stroke-width="1.2"/>
<text x="193.00" y="333.10" font-size="9.3" font-weight="bold" text-anchor="middle" fill="#111" stroke="#111" stroke-width="0.372" stroke-linejoin="round">18</text>
<line x1="220.75" y1="320.50" x2="220.75" y2="324.50" stroke="#111" stroke-width="1.2"/>
<text x="220.75" y="333.10" font-size="9.3" font-weight="bold" text-anchor="middle" fill="#111" stroke="#111" stroke-width="0.372" stroke-linejoin="round">20</text>
<text x="137.20" y="348.80" font-size="10.6" font-weight="bold" text-anchor="middle" fill="#111" stroke="#111" stroke-width="0.424" stroke-linejoin="round">Day of Culture</text>
<text x="15.10" y="246.40" font-size="10.7" font-weight="bold" text-anchor="middle" fill="#111" transform="rotate(-90 15.10 246.40)" stroke="#111" stroke-width="0.428" stroke-linejoin="round">Fold over Untreated</text>
<rect x="46.80" y="169.75" width="19.2" height="7.7" rx="0.7" fill="#ffffff" stroke="#333" stroke-width="0.95"/>
<text x="68.90" y="177.20" font-size="10.35" font-weight="normal" text-anchor="start" fill="#111" stroke="#111" stroke-width="0.228" stroke-linejoin="round">0<tspan font-family="Liberation Serif, serif" font-weight="normal">&#956;</tspan>M tBHQ</text>
<rect x="46.80" y="185.09" width="19.2" height="7.7" rx="0.7" fill="#dcdcdc" stroke="#333" stroke-width="0.95"/>
<text x="68.90" y="192.54" font-size="10.35" font-weight="normal" text-anchor="start" fill="#111" stroke="#111" stroke-width="0.228" stroke-linejoin="round">0.5<tspan font-family="Liberation Serif, serif" font-weight="normal">&#956;</tspan>M</text>
<rect x="46.80" y="200.43" width="19.2" height="7.7" rx="0.7" fill="#adadad" stroke="#333" stroke-width="0.95"/>
<text x="68.90" y="207.88" font-size="10.35" font-weight="normal" text-anchor="start" fill="#111" stroke="#111" stroke-width="0.228" stroke-linejoin="round">1<tspan font-family="Liberation Serif, serif" font-weight="normal">&#956;</tspan>M</text>
<rect x="46.80" y="215.77" width="19.2" height="7.7" rx="0.7" fill="#8b8b8b" stroke="#333" stroke-width="0.95"/>
<text x="68.90" y="223.22" font-size="10.35" font-weight="normal" text-anchor="start" fill="#111" stroke="#111" stroke-width="0.228" stroke-linejoin="round">2.5<tspan font-family="Liberation Serif, serif" font-weight="normal">&#956;</tspan>M</text>
<rect x="46.80" y="231.11" width="19.2" height="7.7" rx="0.7" fill="#666666" stroke="#333" stroke-width="0.95"/>
<text x="68.90" y="238.56" font-size="10.35" font-weight="normal" text-anchor="start" fill="#111" stroke="#111" stroke-width="0.228" stroke-linejoin="round">5<tspan font-family="Liberation Serif, serif" font-weight="normal">&#956;</tspan>M</text>
<rect x="46.80" y="246.45" width="19.2" height="7.7" rx="0.7" fill="#0a0a0a" stroke="#333" stroke-width="0.95"/>
<text x="68.90" y="253.90" font-size="10.35" font-weight="normal" text-anchor="start" fill="#111" stroke="#111" stroke-width="0.228" stroke-linejoin="round">5-Aza</text>
<text x="275.00" y="157.40" font-size="11.4" font-weight="bold" text-anchor="start" fill="#111" stroke="#111" stroke-width="0.456" stroke-linejoin="round">D</text>
<text x="388.00" y="155.70" font-size="14.2" font-weight="normal" text-anchor="middle" fill="#111" font-family='"Liberation Serif", serif' stroke="#111" stroke-width="0.312" stroke-linejoin="round">&#947;/&#947;+&#946;</text>
<line x1="305.90" y1="278.13" x2="305.90" y2="284.07" stroke="#111" stroke-width="0.55"/>
<line x1="304.95" y1="278.13" x2="306.85" y2="278.13" stroke="#111" stroke-width="0.55"/>
<line x1="304.95" y1="284.07" x2="306.85" y2="284.07" stroke="#111" stroke-width="0.55"/>
<rect x="304.62" y="284.07" width="2.55" height="36.33" fill="#ffffff" stroke="#141414" stroke-width="0.85"/>
<line x1="322.12" y1="279.62" x2="322.12" y2="283.32" stroke="#111" stroke-width="0.55"/>
<line x1="321.18" y1="279.62" x2="323.07" y2="279.62" stroke="#111" stroke-width="0.55"/>
<line x1="321.18" y1="283.32" x2="323.07" y2="283.32" stroke="#111" stroke-width="0.55"/>
<rect x="320.85" y="283.32" width="2.55" height="37.07" fill="#ffffff" stroke="#141414" stroke-width="0.85"/>
<line x1="326.46" y1="285.18" x2="326.46" y2="287.40" stroke="#111" stroke-width="0.55"/>
<line x1="325.51" y1="285.18" x2="327.41" y2="285.18" stroke="#111" stroke-width="0.55"/>
<line x1="325.51" y1="287.40" x2="327.41" y2="287.40" stroke="#111" stroke-width="0.55"/>
<rect x="325.19" y="287.40" width="2.55" height="33.00" fill="#dcdcdc" stroke="#141414" stroke-width="0.85"/>
<line x1="330.81" y1="277.39" x2="330.81" y2="281.84" stroke="#111" stroke-width="0.55"/>
<line x1="329.86" y1="277.39" x2="331.75" y2="277.39" stroke="#111" stroke-width="0.55"/>
<line x1="329.86" y1="281.84" x2="331.75" y2="281.84" stroke="#111" stroke-width="0.55"/>
<rect x="329.53" y="281.84" width="2.55" height="38.56" fill="#adadad" stroke="#141414" stroke-width="0.85"/>
<line x1="335.14" y1="280.36" x2="335.14" y2="283.32" stroke="#111" stroke-width="0.55"/>
<line x1="334.19" y1="280.36" x2="336.09" y2="280.36" stroke="#111" stroke-width="0.55"/>
<line x1="334.19" y1="283.32" x2="336.09" y2="283.32" stroke="#111" stroke-width="0.55"/>
<rect x="333.87" y="283.32" width="2.55" height="37.07" fill="#8b8b8b" stroke="#141414" stroke-width="0.85"/>
<line x1="339.49" y1="277.39" x2="339.49" y2="281.10" stroke="#111" stroke-width="0.55"/>
<line x1="338.54" y1="277.39" x2="340.44" y2="277.39" stroke="#111" stroke-width="0.55"/>
<line x1="338.54" y1="281.10" x2="340.44" y2="281.10" stroke="#111" stroke-width="0.55"/>
<rect x="338.21" y="281.10" width="2.55" height="39.30" fill="#666666" stroke="#141414" stroke-width="0.85"/>
<line x1="343.82" y1="287.03" x2="343.82" y2="289.26" stroke="#111" stroke-width="0.55"/>
<line x1="342.88" y1="287.03" x2="344.77" y2="287.03" stroke="#111" stroke-width="0.55"/>
<line x1="342.88" y1="289.26" x2="344.77" y2="289.26" stroke="#111" stroke-width="0.55"/>
<rect x="342.55" y="289.26" width="2.55" height="31.14" fill="#0a0a0a" stroke="#141414" stroke-width="0.85"/>
<line x1="350.02" y1="280.36" x2="350.02" y2="283.32" stroke="#111" stroke-width="0.55"/>
<line x1="349.07" y1="280.36" x2="350.97" y2="280.36" stroke="#111" stroke-width="0.55"/>
<line x1="349.07" y1="283.32" x2="350.97" y2="283.32" stroke="#111" stroke-width="0.55"/>
<rect x="348.75" y="283.32" width="2.55" height="37.07" fill="#ffffff" stroke="#141414" stroke-width="0.85"/>
<line x1="354.36" y1="269.98" x2="354.36" y2="272.94" stroke="#111" stroke-width="0.55"/>
<line x1="353.41" y1="269.98" x2="355.31" y2="269.98" stroke="#111" stroke-width="0.55"/>
<line x1="353.41" y1="272.94" x2="355.31" y2="272.94" stroke="#111" stroke-width="0.55"/>
<rect x="353.09" y="272.94" width="2.55" height="47.46" fill="#dcdcdc" stroke="#141414" stroke-width="0.85"/>
<line x1="358.70" y1="263.30" x2="358.70" y2="267.01" stroke="#111" stroke-width="0.55"/>
<line x1="357.75" y1="263.30" x2="359.65" y2="263.30" stroke="#111" stroke-width="0.55"/>
<line x1="357.75" y1="267.01" x2="359.65" y2="267.01" stroke="#111" stroke-width="0.55"/>
<rect x="357.43" y="267.01" width="2.55" height="53.39" fill="#adadad" stroke="#141414" stroke-width="0.85"/>
<line x1="363.04" y1="264.79" x2="363.04" y2="268.50" stroke="#111" stroke-width="0.55"/>
<line x1="362.09" y1="264.79" x2="363.99" y2="264.79" stroke="#111" stroke-width="0.55"/>
<line x1="362.09" y1="268.50" x2="363.99" y2="268.50" stroke="#111" stroke-width="0.55"/>
<rect x="361.77" y="268.50" width="2.55" height="51.90" fill="#8b8b8b" stroke="#141414" stroke-width="0.85"/>
<line x1="367.38" y1="270.72" x2="367.38" y2="273.69" stroke="#111" stroke-width="0.55"/>
<line x1="366.44" y1="270.72" x2="368.33" y2="270.72" stroke="#111" stroke-width="0.55"/>
<line x1="366.44" y1="273.69" x2="368.33" y2="273.69" stroke="#111" stroke-width="0.55"/>
<rect x="366.11" y="273.69" width="2.55" height="46.71" fill="#666666" stroke="#141414" stroke-width="0.85"/>
<line x1="371.72" y1="271.46" x2="371.72" y2="274.43" stroke="#111" stroke-width="0.55"/>
<line x1="370.77" y1="271.46" x2="372.67" y2="271.46" stroke="#111" stroke-width="0.55"/>
<line x1="370.77" y1="274.43" x2="372.67" y2="274.43" stroke="#111" stroke-width="0.55"/>
<rect x="370.45" y="274.43" width="2.55" height="45.97" fill="#0a0a0a" stroke="#141414" stroke-width="0.85"/>
<line x1="378.02" y1="280.36" x2="378.02" y2="283.32" stroke="#111" stroke-width="0.55"/>
<line x1="377.07" y1="280.36" x2="378.97" y2="280.36" stroke="#111" stroke-width="0.55"/>
<line x1="377.07" y1="283.32" x2="378.97" y2="283.32" stroke="#111" stroke-width="0.55"/>
<rect x="376.75" y="283.32" width="2.55" height="37.07" fill="#ffffff" stroke="#141414" stroke-width="0.85"/>
<line x1="382.36" y1="269.98" x2="382.36" y2="272.94" stroke="#111" stroke-width="0.55"/>
<line x1="381.41" y1="269.98" x2="383.31" y2="269.98" stroke="#111" stroke-width="0.55"/>
<line x1="381.41" y1="272.94" x2="383.31" y2="272.94" stroke="#111" stroke-width="0.55"/>
<rect x="381.09" y="272.94" width="2.55" height="47.46" fill="#dcdcdc" stroke="#141414" stroke-width="0.85"/>
<line x1="386.70" y1="294.45" x2="386.70" y2="296.67" stroke="#111" stroke-width="0.55"/>
<line x1="385.75" y1="294.45" x2="387.65" y2="294.45" stroke="#111" stroke-width="0.55"/>
<line x1="385.75" y1="296.67" x2="387.65" y2="296.67" stroke="#111" stroke-width="0.55"/>
<rect x="385.43" y="296.67" width="2.55" height="23.73" fill="#adadad" stroke="#141414" stroke-width="0.85"/>
<line x1="391.04" y1="275.91" x2="391.04" y2="279.62" stroke="#111" stroke-width="0.55"/>
<line x1="390.09" y1="275.91" x2="391.99" y2="275.91" stroke="#111" stroke-width="0.55"/>
<line x1="390.09" y1="279.62" x2="391.99" y2="279.62" stroke="#111" stroke-width="0.55"/>
<rect x="389.77" y="279.62" width="2.55" height="40.78" fill="#8b8b8b" stroke="#141414" stroke-width="0.85"/>
<line x1="395.38" y1="265.53" x2="395.38" y2="269.24" stroke="#111" stroke-width="0.55"/>
<line x1="394.44" y1="265.53" x2="396.33" y2="265.53" stroke="#111" stroke-width="0.55"/>
<line x1="394.44" y1="269.24" x2="396.33" y2="269.24" stroke="#111" stroke-width="0.55"/>
<rect x="394.11" y="269.24" width="2.55" height="51.16" fill="#666666" stroke="#141414" stroke-width="0.85"/>
<line x1="399.72" y1="251.07" x2="399.72" y2="254.04" stroke="#111" stroke-width="0.55"/>
<line x1="398.77" y1="251.07" x2="400.67" y2="251.07" stroke="#111" stroke-width="0.55"/>
<line x1="398.77" y1="254.04" x2="400.67" y2="254.04" stroke="#111" stroke-width="0.55"/>
<rect x="398.45" y="254.04" width="2.55" height="66.36" fill="#0a0a0a" stroke="#141414" stroke-width="0.85"/>
<line x1="405.93" y1="281.10" x2="405.93" y2="283.32" stroke="#111" stroke-width="0.55"/>
<line x1="404.98" y1="281.10" x2="406.88" y2="281.10" stroke="#111" stroke-width="0.55"/>
<line x1="404.98" y1="283.32" x2="406.88" y2="283.32" stroke="#111" stroke-width="0.55"/>
<rect x="404.65" y="283.32" width="2.55" height="37.07" fill="#ffffff" stroke="#141414" stroke-width="0.85"/>
<line x1="410.26" y1="269.24" x2="410.26" y2="272.94" stroke="#111" stroke-width="0.55"/>
<line x1="409.31" y1="269.24" x2="411.21" y2="269.24" stroke="#111" stroke-width="0.55"/>
<line x1="409.31" y1="272.94" x2="411.21" y2="272.94" stroke="#111" stroke-width="0.55"/>
<rect x="408.99" y="272.94" width="2.55" height="47.46" fill="#dcdcdc" stroke="#141414" stroke-width="0.85"/>
<line x1="414.61" y1="264.05" x2="414.61" y2="267.01" stroke="#111" stroke-width="0.55"/>
<line x1="413.66" y1="264.05" x2="415.56" y2="264.05" stroke="#111" stroke-width="0.55"/>
<line x1="413.66" y1="267.01" x2="415.56" y2="267.01" stroke="#111" stroke-width="0.55"/>
<rect x="413.33" y="267.01" width="2.55" height="53.39" fill="#adadad" stroke="#141414" stroke-width="0.85"/>
<line x1="418.94" y1="252.92" x2="418.94" y2="256.63" stroke="#111" stroke-width="0.55"/>
<line x1="418.00" y1="252.92" x2="419.89" y2="252.92" stroke="#111" stroke-width="0.55"/>
<line x1="418.00" y1="256.63" x2="419.89" y2="256.63" stroke="#111" stroke-width="0.55"/>
<rect x="417.67" y="256.63" width="2.55" height="63.77" fill="#8b8b8b" stroke="#141414" stroke-width="0.85"/>
<line x1="423.29" y1="231.05" x2="423.29" y2="234.76" stroke="#111" stroke-width="0.55"/>
<line x1="422.34" y1="231.05" x2="424.24" y2="231.05" stroke="#111" stroke-width="0.55"/>
<line x1="422.34" y1="234.76" x2="424.24" y2="234.76" stroke="#111" stroke-width="0.55"/>
<rect x="422.01" y="234.76" width="2.55" height="85.64" fill="#666666" stroke="#141414" stroke-width="0.85"/>
<line x1="427.62" y1="206.21" x2="427.62" y2="210.66" stroke="#111" stroke-width="0.55"/>
<line x1="426.68" y1="206.21" x2="428.57" y2="206.21" stroke="#111" stroke-width="0.55"/>
<line x1="426.68" y1="210.66" x2="428.57" y2="210.66" stroke="#111" stroke-width="0.55"/>
<rect x="426.35" y="210.66" width="2.55" height="109.74" fill="#0a0a0a" stroke="#141414" stroke-width="0.85"/>
<line x1="433.82" y1="281.10" x2="433.82" y2="283.32" stroke="#111" stroke-width="0.55"/>
<line x1="432.88" y1="281.10" x2="434.77" y2="281.10" stroke="#111" stroke-width="0.55"/>
<line x1="432.88" y1="283.32" x2="434.77" y2="283.32" stroke="#111" stroke-width="0.55"/>
<rect x="432.55" y="283.32" width="2.55" height="37.07" fill="#ffffff" stroke="#141414" stroke-width="0.85"/>
<line x1="438.16" y1="282.58" x2="438.16" y2="284.81" stroke="#111" stroke-width="0.55"/>
<line x1="437.21" y1="282.58" x2="439.11" y2="282.58" stroke="#111" stroke-width="0.55"/>
<line x1="437.21" y1="284.81" x2="439.11" y2="284.81" stroke="#111" stroke-width="0.55"/>
<rect x="436.89" y="284.81" width="2.55" height="35.59" fill="#dcdcdc" stroke="#141414" stroke-width="0.85"/>
<line x1="442.50" y1="292.22" x2="442.50" y2="295.19" stroke="#111" stroke-width="0.55"/>
<line x1="441.56" y1="292.22" x2="443.45" y2="292.22" stroke="#111" stroke-width="0.55"/>
<line x1="441.56" y1="295.19" x2="443.45" y2="295.19" stroke="#111" stroke-width="0.55"/>
<rect x="441.23" y="295.19" width="2.55" height="25.21" fill="#adadad" stroke="#141414" stroke-width="0.85"/>
<line x1="446.84" y1="276.65" x2="446.84" y2="280.36" stroke="#111" stroke-width="0.55"/>
<line x1="445.89" y1="276.65" x2="447.79" y2="276.65" stroke="#111" stroke-width="0.55"/>
<line x1="445.89" y1="280.36" x2="447.79" y2="280.36" stroke="#111" stroke-width="0.55"/>
<rect x="445.57" y="280.36" width="2.55" height="40.04" fill="#8b8b8b" stroke="#141414" stroke-width="0.85"/>
<line x1="451.19" y1="257.37" x2="451.19" y2="260.34" stroke="#111" stroke-width="0.55"/>
<line x1="450.24" y1="257.37" x2="452.13" y2="257.37" stroke="#111" stroke-width="0.55"/>
<line x1="450.24" y1="260.34" x2="452.13" y2="260.34" stroke="#111" stroke-width="0.55"/>
<rect x="449.91" y="260.34" width="2.55" height="60.06" fill="#666666" stroke="#141414" stroke-width="0.85"/>
<line x1="455.52" y1="198.05" x2="455.52" y2="201.76" stroke="#111" stroke-width="0.55"/>
<line x1="454.57" y1="198.05" x2="456.47" y2="198.05" stroke="#111" stroke-width="0.55"/>
<line x1="454.57" y1="201.76" x2="456.47" y2="201.76" stroke="#111" stroke-width="0.55"/>
<rect x="454.25" y="201.76" width="2.55" height="118.64" fill="#0a0a0a" stroke="#141414" stroke-width="0.85"/>
<line x1="461.73" y1="281.10" x2="461.73" y2="283.32" stroke="#111" stroke-width="0.55"/>
<line x1="460.78" y1="281.10" x2="462.68" y2="281.10" stroke="#111" stroke-width="0.55"/>
<line x1="460.78" y1="283.32" x2="462.68" y2="283.32" stroke="#111" stroke-width="0.55"/>
<rect x="460.45" y="283.32" width="2.55" height="37.07" fill="#ffffff" stroke="#141414" stroke-width="0.85"/>
<line x1="466.06" y1="292.96" x2="466.06" y2="294.45" stroke="#111" stroke-width="0.55"/>
<line x1="465.12" y1="292.96" x2="467.01" y2="292.96" stroke="#111" stroke-width="0.55"/>
<line x1="465.12" y1="294.45" x2="467.01" y2="294.45" stroke="#111" stroke-width="0.55"/>
<rect x="464.79" y="294.45" width="2.55" height="25.95" fill="#dcdcdc" stroke="#141414" stroke-width="0.85"/>
<line x1="470.41" y1="239.58" x2="470.41" y2="242.54" stroke="#111" stroke-width="0.55"/>
<line x1="469.46" y1="239.58" x2="471.36" y2="239.58" stroke="#111" stroke-width="0.55"/>
<line x1="469.46" y1="242.54" x2="471.36" y2="242.54" stroke="#111" stroke-width="0.55"/>
<rect x="469.13" y="242.54" width="2.55" height="77.86" fill="#adadad" stroke="#141414" stroke-width="0.85"/>
<line x1="474.75" y1="219.56" x2="474.75" y2="224.00" stroke="#111" stroke-width="0.55"/>
<line x1="473.80" y1="219.56" x2="475.69" y2="219.56" stroke="#111" stroke-width="0.55"/>
<line x1="473.80" y1="224.00" x2="475.69" y2="224.00" stroke="#111" stroke-width="0.55"/>
<rect x="473.47" y="224.00" width="2.55" height="96.40" fill="#8b8b8b" stroke="#141414" stroke-width="0.85"/>
<line x1="479.09" y1="198.79" x2="479.09" y2="203.98" stroke="#111" stroke-width="0.55"/>
<line x1="478.14" y1="198.79" x2="480.04" y2="198.79" stroke="#111" stroke-width="0.55"/>
<line x1="478.14" y1="203.98" x2="480.04" y2="203.98" stroke="#111" stroke-width="0.55"/>
<rect x="477.81" y="203.98" width="2.55" height="116.42" fill="#666666" stroke="#141414" stroke-width="0.85"/>
<line x1="483.43" y1="183.22" x2="483.43" y2="187.67" stroke="#111" stroke-width="0.55"/>
<line x1="482.48" y1="183.22" x2="484.38" y2="183.22" stroke="#111" stroke-width="0.55"/>
<line x1="482.48" y1="187.67" x2="484.38" y2="187.67" stroke="#111" stroke-width="0.55"/>
<rect x="482.15" y="187.67" width="2.55" height="132.73" fill="#0a0a0a" stroke="#141414" stroke-width="0.85"/>
<line x1="291.00" y1="171.40" x2="291.00" y2="321.30" stroke="#111" stroke-width="1.7"/>
<line x1="290.15" y1="320.50" x2="485.80" y2="320.50" stroke="#111" stroke-width="2.1"/>
<line x1="287.00" y1="320.40" x2="291.00" y2="320.40" stroke="#111" stroke-width="1.1"/>
<text x="285.30" y="323.60" font-size="8.9" font-weight="bold" text-anchor="end" fill="#111" stroke="#111" stroke-width="0.356" stroke-linejoin="round">0.5</text>
<line x1="287.00" y1="283.32" x2="291.00" y2="283.32" stroke="#111" stroke-width="1.1"/>
<text x="285.30" y="286.52" font-size="8.9" font-weight="bold" text-anchor="end" fill="#111" stroke="#111" stroke-width="0.356" stroke-linejoin="round">1.0</text>
<line x1="287.00" y1="246.25" x2="291.00" y2="246.25" stroke="#111" stroke-width="1.1"/>
<text x="285.30" y="249.45" font-size="8.9" font-weight="bold" text-anchor="end" fill="#111" stroke="#111" stroke-width="0.356" stroke-linejoin="round">1.5</text>
<line x1="287.00" y1="209.17" x2="291.00" y2="209.17" stroke="#111" stroke-width="1.1"/>
<text x="285.30" y="212.37" font-size="8.9" font-weight="bold" text-anchor="end" fill="#111" stroke="#111" stroke-width="0.356" stroke-linejoin="round">2.0</text>
<line x1="287.00" y1="172.10" x2="291.00" y2="172.10" stroke="#111" stroke-width="1.1"/>
<text x="285.30" y="175.30" font-size="8.9" font-weight="bold" text-anchor="end" fill="#111" stroke="#111" stroke-width="0.356" stroke-linejoin="round">2.5</text>
<line x1="288.60" y1="301.86" x2="291.00" y2="301.86" stroke="#111" stroke-width="1.0"/>
<line x1="288.60" y1="264.79" x2="291.00" y2="264.79" stroke="#111" stroke-width="1.0"/>
<line x1="288.60" y1="227.71" x2="291.00" y2="227.71" stroke="#111" stroke-width="1.0"/>
<line x1="288.60" y1="190.64" x2="291.00" y2="190.64" stroke="#111" stroke-width="1.0"/>
<line x1="304.80" y1="320.40" x2="304.80" y2="324.40" stroke="#111" stroke-width="1.2"/>
<text x="304.80" y="333.00" font-size="9.3" font-weight="bold" text-anchor="middle" fill="#111" stroke="#111" stroke-width="0.372" stroke-linejoin="round">7</text>
<line x1="333.00" y1="320.40" x2="333.00" y2="324.40" stroke="#111" stroke-width="1.2"/>
<text x="333.00" y="333.00" font-size="9.3" font-weight="bold" text-anchor="middle" fill="#111" stroke="#111" stroke-width="0.372" stroke-linejoin="round">10</text>
<line x1="360.90" y1="320.40" x2="360.90" y2="324.40" stroke="#111" stroke-width="1.2"/>
<text x="360.90" y="333.00" font-size="9.3" font-weight="bold" text-anchor="middle" fill="#111" stroke="#111" stroke-width="0.372" stroke-linejoin="round">12</text>
<line x1="388.90" y1="320.40" x2="388.90" y2="324.40" stroke="#111" stroke-width="1.2"/>
<text x="388.90" y="333.00" font-size="9.3" font-weight="bold" text-anchor="middle" fill="#111" stroke="#111" stroke-width="0.372" stroke-linejoin="round">14</text>
<line x1="416.80" y1="320.40" x2="416.80" y2="324.40" stroke="#111" stroke-width="1.2"/>
<text x="416.80" y="333.00" font-size="9.3" font-weight="bold" text-anchor="middle" fill="#111" stroke="#111" stroke-width="0.372" stroke-linejoin="round">16</text>
<line x1="444.70" y1="320.40" x2="444.70" y2="324.40" stroke="#111" stroke-width="1.2"/>
<text x="444.70" y="333.00" font-size="9.3" font-weight="bold" text-anchor="middle" fill="#111" stroke="#111" stroke-width="0.372" stroke-linejoin="round">18</text>
<line x1="472.60" y1="320.40" x2="472.60" y2="324.40" stroke="#111" stroke-width="1.2"/>
<text x="472.60" y="333.00" font-size="9.3" font-weight="bold" text-anchor="middle" fill="#111" stroke="#111" stroke-width="0.372" stroke-linejoin="round">20</text>
<text x="388.20" y="348.80" font-size="10.6" font-weight="bold" text-anchor="middle" fill="#111" stroke="#111" stroke-width="0.424" stroke-linejoin="round">Day of Culture</text>
<text x="265.90" y="246.40" font-size="10.7" font-weight="bold" text-anchor="middle" fill="#111" transform="rotate(-90 265.90 246.40)" stroke="#111" stroke-width="0.428" stroke-linejoin="round">Fold over Untreated</text>
<rect x="298.00" y="169.75" width="19.2" height="7.7" rx="0.7" fill="#ffffff" stroke="#333" stroke-width="0.95"/>
<text x="320.10" y="177.20" font-size="10.35" font-weight="normal" text-anchor="start" fill="#111" stroke="#111" stroke-width="0.228" stroke-linejoin="round">0<tspan font-family="Liberation Serif, serif" font-weight="normal">&#956;</tspan>M tBHQ</text>
<rect x="298.00" y="185.09" width="19.2" height="7.7" rx="0.7" fill="#dcdcdc" stroke="#333" stroke-width="0.95"/>
<text x="320.10" y="192.54" font-size="10.35" font-weight="normal" text-anchor="start" fill="#111" stroke="#111" stroke-width="0.228" stroke-linejoin="round">0.5<tspan font-family="Liberation Serif, serif" font-weight="normal">&#956;</tspan>M</text>
<rect x="298.00" y="200.43" width="19.2" height="7.7" rx="0.7" fill="#adadad" stroke="#333" stroke-width="0.95"/>
<text x="320.10" y="207.88" font-size="10.35" font-weight="normal" text-anchor="start" fill="#111" stroke="#111" stroke-width="0.228" stroke-linejoin="round">1<tspan font-family="Liberation Serif, serif" font-weight="normal">&#956;</tspan>M</text>
<rect x="298.00" y="215.77" width="19.2" height="7.7" rx="0.7" fill="#8b8b8b" stroke="#333" stroke-width="0.95"/>
<text x="320.10" y="223.22" font-size="10.35" font-weight="normal" text-anchor="start" fill="#111" stroke="#111" stroke-width="0.228" stroke-linejoin="round">2.5<tspan font-family="Liberation Serif, serif" font-weight="normal">&#956;</tspan>M</text>
<rect x="298.00" y="231.11" width="19.2" height="7.7" rx="0.7" fill="#666666" stroke="#333" stroke-width="0.95"/>
<text x="320.10" y="238.56" font-size="10.35" font-weight="normal" text-anchor="start" fill="#111" stroke="#111" stroke-width="0.228" stroke-linejoin="round">5<tspan font-family="Liberation Serif, serif" font-weight="normal">&#956;</tspan>M</text>
<rect x="298.00" y="246.45" width="19.2" height="7.7" rx="0.7" fill="#0a0a0a" stroke="#333" stroke-width="0.95"/>
<text x="320.10" y="253.90" font-size="10.35" font-weight="normal" text-anchor="start" fill="#111" stroke="#111" stroke-width="0.228" stroke-linejoin="round">5-Aza</text>
<text x="20.90" y="370.20" font-size="12.1" font-weight="bold" text-anchor="start" fill="#111" stroke="#111" stroke-width="0.484" stroke-linejoin="round">E</text>
<text x="114.30" y="380.20" font-size="6.0" font-weight="normal" text-anchor="middle" fill="#151515" stroke="#151515" stroke-width="0.132" stroke-linejoin="round">&#947;-globin AUC</text>
<rect x="68.10" y="426.52" width="11.50" height="25.68" fill="#a9a9a9" stroke="#333" stroke-width="0.7"/>
<line x1="73.85" y1="452.20" x2="73.85" y2="454.20" stroke="#2c2c2c" stroke-width="0.8"/>
<rect x="84.22" y="420.10" width="11.50" height="32.10" fill="#a9a9a9" stroke="#333" stroke-width="0.7"/>
<line x1="89.97" y1="419.33" x2="89.97" y2="420.87" stroke="#333" stroke-width="0.5"/>
<line x1="88.27" y1="419.33" x2="91.67" y2="419.33" stroke="#333" stroke-width="0.5"/>
<line x1="88.27" y1="420.87" x2="91.67" y2="420.87" stroke="#333" stroke-width="0.5"/>
<line x1="89.97" y1="452.20" x2="89.97" y2="454.20" stroke="#2c2c2c" stroke-width="0.8"/>
<rect x="100.34" y="422.15" width="11.50" height="30.05" fill="#a9a9a9" stroke="#333" stroke-width="0.7"/>
<line x1="106.09" y1="418.82" x2="106.09" y2="425.49" stroke="#333" stroke-width="0.5"/>
<line x1="104.39" y1="418.82" x2="107.79" y2="418.82" stroke="#333" stroke-width="0.5"/>
<line x1="104.39" y1="425.49" x2="107.79" y2="425.49" stroke="#333" stroke-width="0.5"/>
<line x1="106.09" y1="452.20" x2="106.09" y2="454.20" stroke="#2c2c2c" stroke-width="0.8"/>
<rect x="116.46" y="423.95" width="11.50" height="28.25" fill="#a9a9a9" stroke="#333" stroke-width="0.7"/>
<line x1="122.21" y1="421.38" x2="122.21" y2="426.52" stroke="#333" stroke-width="0.5"/>
<line x1="120.51" y1="421.38" x2="123.91" y2="421.38" stroke="#333" stroke-width="0.5"/>
<line x1="120.51" y1="426.52" x2="123.91" y2="426.52" stroke="#333" stroke-width="0.5"/>
<line x1="122.21" y1="452.20" x2="122.21" y2="454.20" stroke="#2c2c2c" stroke-width="0.8"/>
<rect x="132.58" y="413.42" width="11.50" height="38.78" fill="#a9a9a9" stroke="#333" stroke-width="0.7"/>
<line x1="138.33" y1="408.29" x2="138.33" y2="418.56" stroke="#333" stroke-width="0.5"/>
<line x1="136.63" y1="408.29" x2="140.03" y2="408.29" stroke="#333" stroke-width="0.5"/>
<line x1="136.63" y1="418.56" x2="140.03" y2="418.56" stroke="#333" stroke-width="0.5"/>
<line x1="138.33" y1="452.20" x2="138.33" y2="454.20" stroke="#2c2c2c" stroke-width="0.8"/>
<rect x="148.70" y="401.61" width="11.50" height="50.59" fill="#a9a9a9" stroke="#333" stroke-width="0.7"/>
<line x1="154.45" y1="392.62" x2="154.45" y2="410.60" stroke="#333" stroke-width="0.5"/>
<line x1="152.75" y1="392.62" x2="156.15" y2="392.62" stroke="#333" stroke-width="0.5"/>
<line x1="152.75" y1="410.60" x2="156.15" y2="410.60" stroke="#333" stroke-width="0.5"/>
<line x1="154.45" y1="452.20" x2="154.45" y2="454.20" stroke="#2c2c2c" stroke-width="0.8"/>
<line x1="66.00" y1="387.60" x2="66.00" y2="452.70" stroke="#2c2c2c" stroke-width="1.1"/>
<line x1="65.50" y1="452.20" x2="162.20" y2="452.20" stroke="#2c2c2c" stroke-width="1.1"/>
<line x1="63.80" y1="452.20" x2="66.00" y2="452.20" stroke="#2c2c2c" stroke-width="0.8"/>
<text x="62.90" y="453.85" font-size="4.6" font-weight="bold" text-anchor="end" fill="#1c1c1c" stroke="#1c1c1c" stroke-width="0.276" stroke-linejoin="round">0.0</text>
<line x1="63.80" y1="439.36" x2="66.00" y2="439.36" stroke="#2c2c2c" stroke-width="0.8"/>
<text x="62.90" y="441.01" font-size="4.6" font-weight="bold" text-anchor="end" fill="#1c1c1c" stroke="#1c1c1c" stroke-width="0.276" stroke-linejoin="round">0.5</text>
<line x1="63.80" y1="426.52" x2="66.00" y2="426.52" stroke="#2c2c2c" stroke-width="0.8"/>
<text x="62.90" y="428.17" font-size="4.6" font-weight="bold" text-anchor="end" fill="#1c1c1c" stroke="#1c1c1c" stroke-width="0.276" stroke-linejoin="round">1.0</text>
<line x1="63.80" y1="413.68" x2="66.00" y2="413.68" stroke="#2c2c2c" stroke-width="0.8"/>
<text x="62.90" y="415.33" font-size="4.6" font-weight="bold" text-anchor="end" fill="#1c1c1c" stroke="#1c1c1c" stroke-width="0.276" stroke-linejoin="round">1.5</text>
<line x1="63.80" y1="400.84" x2="66.00" y2="400.84" stroke="#2c2c2c" stroke-width="0.8"/>
<text x="62.90" y="402.49" font-size="4.6" font-weight="bold" text-anchor="end" fill="#1c1c1c" stroke="#1c1c1c" stroke-width="0.276" stroke-linejoin="round">2.0</text>
<line x1="63.80" y1="388.00" x2="66.00" y2="388.00" stroke="#2c2c2c" stroke-width="0.8"/>
<text x="62.90" y="389.65" font-size="4.6" font-weight="bold" text-anchor="end" fill="#1c1c1c" stroke="#1c1c1c" stroke-width="0.276" stroke-linejoin="round">2.5</text>
<text x="73.85" y="459.10" font-size="4.6" font-weight="bold" text-anchor="middle" fill="#111" stroke="#111" stroke-width="0.276" stroke-linejoin="round">0</text>
<text x="89.97" y="459.10" font-size="4.6" font-weight="bold" text-anchor="middle" fill="#111" stroke="#111" stroke-width="0.276" stroke-linejoin="round">0.5</text>
<text x="106.09" y="459.10" font-size="4.6" font-weight="bold" text-anchor="middle" fill="#111" stroke="#111" stroke-width="0.276" stroke-linejoin="round">1</text>
<text x="122.21" y="459.10" font-size="4.6" font-weight="bold" text-anchor="middle" fill="#111" stroke="#111" stroke-width="0.276" stroke-linejoin="round">2.5</text>
<text x="138.33" y="459.10" font-size="4.6" font-weight="bold" text-anchor="middle" fill="#111" stroke="#111" stroke-width="0.276" stroke-linejoin="round">5</text>
<text x="154.45" y="459.10" font-size="4.6" font-weight="bold" text-anchor="middle" fill="#111" stroke="#111" stroke-width="0.276" stroke-linejoin="round">5-Aza</text>
<line x1="68.10" y1="461.20" x2="144.08" y2="461.20" stroke="#222" stroke-width="0.8"/>
<text x="114.30" y="467.30" font-size="5.4" font-weight="bold" text-anchor="middle" fill="#111" stroke="#111" stroke-width="0.324" stroke-linejoin="round">tBHQ (<tspan font-family="Liberation Serif, serif" font-weight="normal">&#956;</tspan>M)</text>
<text x="53.40" y="420.60" font-size="5.15" font-weight="bold" text-anchor="middle" fill="#111" transform="rotate(-90 53.40 420.60)" stroke="#111" stroke-width="0.309" stroke-linejoin="round">Fold over untreated</text>
<text x="266.30" y="380.20" font-size="6.0" font-weight="normal" text-anchor="middle" fill="#151515" stroke="#151515" stroke-width="0.132" stroke-linejoin="round">&#946;-globin AUC</text>
<rect x="220.50" y="400.58" width="11.50" height="51.62" fill="#a9a9a9" stroke="#333" stroke-width="0.7"/>
<line x1="226.25" y1="452.20" x2="226.25" y2="454.20" stroke="#2c2c2c" stroke-width="0.8"/>
<rect x="236.62" y="393.14" width="11.50" height="59.06" fill="#a9a9a9" stroke="#333" stroke-width="0.7"/>
<line x1="242.37" y1="390.82" x2="242.37" y2="395.45" stroke="#333" stroke-width="0.5"/>
<line x1="240.67" y1="390.82" x2="244.07" y2="390.82" stroke="#333" stroke-width="0.5"/>
<line x1="240.67" y1="395.45" x2="244.07" y2="395.45" stroke="#333" stroke-width="0.5"/>
<line x1="242.37" y1="452.20" x2="242.37" y2="454.20" stroke="#2c2c2c" stroke-width="0.8"/>
<rect x="252.74" y="395.45" width="11.50" height="56.75" fill="#a9a9a9" stroke="#333" stroke-width="0.7"/>
<line x1="258.49" y1="390.31" x2="258.49" y2="400.58" stroke="#333" stroke-width="0.5"/>
<line x1="256.79" y1="390.31" x2="260.19" y2="390.31" stroke="#333" stroke-width="0.5"/>
<line x1="256.79" y1="400.58" x2="260.19" y2="400.58" stroke="#333" stroke-width="0.5"/>
<line x1="258.49" y1="452.20" x2="258.49" y2="454.20" stroke="#2c2c2c" stroke-width="0.8"/>
<rect x="268.86" y="407.00" width="11.50" height="45.20" fill="#a9a9a9" stroke="#333" stroke-width="0.7"/>
<line x1="274.61" y1="404.44" x2="274.61" y2="409.57" stroke="#333" stroke-width="0.5"/>
<line x1="272.91" y1="404.44" x2="276.31" y2="404.44" stroke="#333" stroke-width="0.5"/>
<line x1="272.91" y1="409.57" x2="276.31" y2="409.57" stroke="#333" stroke-width="0.5"/>
<line x1="274.61" y1="452.20" x2="274.61" y2="454.20" stroke="#2c2c2c" stroke-width="0.8"/>
<rect x="284.98" y="411.37" width="11.50" height="40.83" fill="#a9a9a9" stroke="#333" stroke-width="0.7"/>
<line x1="290.73" y1="405.72" x2="290.73" y2="417.02" stroke="#333" stroke-width="0.5"/>
<line x1="289.03" y1="405.72" x2="292.43" y2="405.72" stroke="#333" stroke-width="0.5"/>
<line x1="289.03" y1="417.02" x2="292.43" y2="417.02" stroke="#333" stroke-width="0.5"/>
<line x1="290.73" y1="452.20" x2="290.73" y2="454.20" stroke="#2c2c2c" stroke-width="0.8"/>
<rect x="301.10" y="393.91" width="11.50" height="58.29" fill="#a9a9a9" stroke="#333" stroke-width="0.7"/>
<line x1="306.85" y1="389.28" x2="306.85" y2="398.53" stroke="#333" stroke-width="0.5"/>
<line x1="305.15" y1="389.28" x2="308.55" y2="389.28" stroke="#333" stroke-width="0.5"/>
<line x1="305.15" y1="398.53" x2="308.55" y2="398.53" stroke="#333" stroke-width="0.5"/>
<line x1="306.85" y1="452.20" x2="306.85" y2="454.20" stroke="#2c2c2c" stroke-width="0.8"/>
<line x1="218.20" y1="387.60" x2="218.20" y2="452.70" stroke="#2c2c2c" stroke-width="1.1"/>
<line x1="217.70" y1="452.20" x2="314.40" y2="452.20" stroke="#2c2c2c" stroke-width="1.1"/>
<line x1="216.00" y1="452.20" x2="218.20" y2="452.20" stroke="#2c2c2c" stroke-width="0.8"/>
<text x="215.60" y="453.85" font-size="4.6" font-weight="bold" text-anchor="end" fill="#1c1c1c" stroke="#1c1c1c" stroke-width="0.276" stroke-linejoin="round">0.00</text>
<line x1="216.00" y1="439.36" x2="218.20" y2="439.36" stroke="#2c2c2c" stroke-width="0.8"/>
<text x="215.60" y="441.01" font-size="4.6" font-weight="bold" text-anchor="end" fill="#1c1c1c" stroke="#1c1c1c" stroke-width="0.276" stroke-linejoin="round">0.25</text>
<line x1="216.00" y1="426.52" x2="218.20" y2="426.52" stroke="#2c2c2c" stroke-width="0.8"/>
<text x="215.60" y="428.17" font-size="4.6" font-weight="bold" text-anchor="end" fill="#1c1c1c" stroke="#1c1c1c" stroke-width="0.276" stroke-linejoin="round">0.50</text>
<line x1="216.00" y1="413.68" x2="218.20" y2="413.68" stroke="#2c2c2c" stroke-width="0.8"/>
<text x="215.60" y="415.33" font-size="4.6" font-weight="bold" text-anchor="end" fill="#1c1c1c" stroke="#1c1c1c" stroke-width="0.276" stroke-linejoin="round">0.75</text>
<line x1="216.00" y1="400.84" x2="218.20" y2="400.84" stroke="#2c2c2c" stroke-width="0.8"/>
<text x="215.60" y="402.49" font-size="4.6" font-weight="bold" text-anchor="end" fill="#1c1c1c" stroke="#1c1c1c" stroke-width="0.276" stroke-linejoin="round">1.00</text>
<line x1="216.00" y1="388.00" x2="218.20" y2="388.00" stroke="#2c2c2c" stroke-width="0.8"/>
<text x="215.60" y="389.65" font-size="4.6" font-weight="bold" text-anchor="end" fill="#1c1c1c" stroke="#1c1c1c" stroke-width="0.276" stroke-linejoin="round">1.25</text>
<text x="226.25" y="459.10" font-size="4.6" font-weight="bold" text-anchor="middle" fill="#111" stroke="#111" stroke-width="0.276" stroke-linejoin="round">0</text>
<text x="242.37" y="459.10" font-size="4.6" font-weight="bold" text-anchor="middle" fill="#111" stroke="#111" stroke-width="0.276" stroke-linejoin="round">0.5</text>
<text x="258.49" y="459.10" font-size="4.6" font-weight="bold" text-anchor="middle" fill="#111" stroke="#111" stroke-width="0.276" stroke-linejoin="round">1</text>
<text x="274.61" y="459.10" font-size="4.6" font-weight="bold" text-anchor="middle" fill="#111" stroke="#111" stroke-width="0.276" stroke-linejoin="round">2.5</text>
<text x="290.73" y="459.10" font-size="4.6" font-weight="bold" text-anchor="middle" fill="#111" stroke="#111" stroke-width="0.276" stroke-linejoin="round">5</text>
<text x="306.85" y="459.10" font-size="4.6" font-weight="bold" text-anchor="middle" fill="#111" stroke="#111" stroke-width="0.276" stroke-linejoin="round">5-Aza</text>
<line x1="220.50" y1="461.20" x2="296.48" y2="461.20" stroke="#222" stroke-width="0.8"/>
<text x="266.30" y="467.30" font-size="5.4" font-weight="bold" text-anchor="middle" fill="#111" stroke="#111" stroke-width="0.324" stroke-linejoin="round">tBHQ (<tspan font-family="Liberation Serif, serif" font-weight="normal">&#956;</tspan>M)</text>
<text x="202.40" y="420.60" font-size="5.15" font-weight="bold" text-anchor="middle" fill="#111" transform="rotate(-90 202.40 420.60)" stroke="#111" stroke-width="0.309" stroke-linejoin="round">Fold over untreated</text>
<text x="424.80" y="380.20" font-size="5.75" font-weight="normal" text-anchor="middle" fill="#151515" stroke="#151515" stroke-width="0.127" stroke-linejoin="round">&#947;/&#947;+&#946; AUC</text>
<rect x="379.60" y="430.59" width="11.50" height="21.61" fill="#a9a9a9" stroke="#333" stroke-width="0.7"/>
<line x1="385.35" y1="452.20" x2="385.35" y2="454.20" stroke="#2c2c2c" stroke-width="0.8"/>
<rect x="395.72" y="427.27" width="11.50" height="24.93" fill="#a9a9a9" stroke="#333" stroke-width="0.7"/>
<line x1="401.47" y1="426.84" x2="401.47" y2="427.70" stroke="#333" stroke-width="0.5"/>
<line x1="399.77" y1="426.84" x2="403.17" y2="426.84" stroke="#333" stroke-width="0.5"/>
<line x1="399.77" y1="427.70" x2="403.17" y2="427.70" stroke="#333" stroke-width="0.5"/>
<text x="401.47" y="422.50" font-size="5.8" font-weight="bold" text-anchor="middle" fill="#151515" stroke="#151515" stroke-width="0.232" stroke-linejoin="round">*</text>
<line x1="401.47" y1="452.20" x2="401.47" y2="454.20" stroke="#2c2c2c" stroke-width="0.8"/>
<rect x="411.84" y="426.52" width="11.50" height="25.68" fill="#a9a9a9" stroke="#333" stroke-width="0.7"/>
<line x1="417.59" y1="425.88" x2="417.59" y2="427.16" stroke="#333" stroke-width="0.5"/>
<line x1="415.89" y1="425.88" x2="419.29" y2="425.88" stroke="#333" stroke-width="0.5"/>
<line x1="415.89" y1="427.16" x2="419.29" y2="427.16" stroke="#333" stroke-width="0.5"/>
<text x="417.59" y="422.50" font-size="5.8" font-weight="bold" text-anchor="middle" fill="#151515" stroke="#151515" stroke-width="0.232" stroke-linejoin="round">*</text>
<line x1="417.59" y1="452.20" x2="417.59" y2="454.20" stroke="#2c2c2c" stroke-width="0.8"/>
<rect x="427.96" y="422.24" width="11.50" height="29.96" fill="#a9a9a9" stroke="#333" stroke-width="0.7"/>
<line x1="433.71" y1="420.10" x2="433.71" y2="424.38" stroke="#333" stroke-width="0.5"/>
<line x1="432.01" y1="420.10" x2="435.41" y2="420.10" stroke="#333" stroke-width="0.5"/>
<line x1="432.01" y1="424.38" x2="435.41" y2="424.38" stroke="#333" stroke-width="0.5"/>
<text x="433.71" y="416.70" font-size="5.8" font-weight="bold" text-anchor="middle" fill="#151515" stroke="#151515" stroke-width="0.232" stroke-linejoin="round">*</text>
<line x1="433.71" y1="452.20" x2="433.71" y2="454.20" stroke="#2c2c2c" stroke-width="0.8"/>
<rect x="444.08" y="405.65" width="11.50" height="46.55" fill="#a9a9a9" stroke="#333" stroke-width="0.7"/>
<line x1="449.83" y1="396.56" x2="449.83" y2="414.75" stroke="#333" stroke-width="0.5"/>
<line x1="448.13" y1="396.56" x2="451.53" y2="396.56" stroke="#333" stroke-width="0.5"/>
<line x1="448.13" y1="414.75" x2="451.53" y2="414.75" stroke="#333" stroke-width="0.5"/>
<text x="449.83" y="395.00" font-size="5.8" font-weight="bold" text-anchor="middle" fill="#151515" stroke="#151515" stroke-width="0.232" stroke-linejoin="round">*</text>
<line x1="449.83" y1="452.20" x2="449.83" y2="454.20" stroke="#2c2c2c" stroke-width="0.8"/>
<rect x="460.20" y="403.73" width="11.50" height="48.47" fill="#a9a9a9" stroke="#333" stroke-width="0.7"/>
<line x1="465.95" y1="396.77" x2="465.95" y2="410.68" stroke="#333" stroke-width="0.5"/>
<line x1="464.25" y1="396.77" x2="467.65" y2="396.77" stroke="#333" stroke-width="0.5"/>
<line x1="464.25" y1="410.68" x2="467.65" y2="410.68" stroke="#333" stroke-width="0.5"/>
<text x="465.95" y="395.00" font-size="5.8" font-weight="bold" text-anchor="middle" fill="#151515" stroke="#151515" stroke-width="0.232" stroke-linejoin="round">*</text>
<line x1="465.95" y1="452.20" x2="465.95" y2="454.20" stroke="#2c2c2c" stroke-width="0.8"/>
<line x1="377.20" y1="387.60" x2="377.20" y2="452.70" stroke="#2c2c2c" stroke-width="1.1"/>
<line x1="376.70" y1="452.20" x2="473.40" y2="452.20" stroke="#2c2c2c" stroke-width="1.1"/>
<line x1="375.00" y1="452.20" x2="377.20" y2="452.20" stroke="#2c2c2c" stroke-width="0.8"/>
<text x="373.60" y="453.85" font-size="4.6" font-weight="bold" text-anchor="end" fill="#1c1c1c" stroke="#1c1c1c" stroke-width="0.276" stroke-linejoin="round">0.8</text>
<line x1="375.00" y1="441.50" x2="377.20" y2="441.50" stroke="#2c2c2c" stroke-width="0.8"/>
<text x="373.60" y="443.15" font-size="4.6" font-weight="bold" text-anchor="end" fill="#1c1c1c" stroke="#1c1c1c" stroke-width="0.276" stroke-linejoin="round">0.9</text>
<line x1="375.00" y1="430.80" x2="377.20" y2="430.80" stroke="#2c2c2c" stroke-width="0.8"/>
<text x="373.60" y="432.45" font-size="4.6" font-weight="bold" text-anchor="end" fill="#1c1c1c" stroke="#1c1c1c" stroke-width="0.276" stroke-linejoin="round">1.0</text>
<line x1="375.00" y1="420.10" x2="377.20" y2="420.10" stroke="#2c2c2c" stroke-width="0.8"/>
<text x="373.60" y="421.75" font-size="4.6" font-weight="bold" text-anchor="end" fill="#1c1c1c" stroke="#1c1c1c" stroke-width="0.276" stroke-linejoin="round">1.1</text>
<line x1="375.00" y1="409.40" x2="377.20" y2="409.40" stroke="#2c2c2c" stroke-width="0.8"/>
<text x="373.60" y="411.05" font-size="4.6" font-weight="bold" text-anchor="end" fill="#1c1c1c" stroke="#1c1c1c" stroke-width="0.276" stroke-linejoin="round">1.2</text>
<line x1="375.00" y1="398.70" x2="377.20" y2="398.70" stroke="#2c2c2c" stroke-width="0.8"/>
<text x="373.60" y="400.35" font-size="4.6" font-weight="bold" text-anchor="end" fill="#1c1c1c" stroke="#1c1c1c" stroke-width="0.276" stroke-linejoin="round">1.3</text>
<line x1="375.00" y1="388.00" x2="377.20" y2="388.00" stroke="#2c2c2c" stroke-width="0.8"/>
<text x="373.60" y="389.65" font-size="4.6" font-weight="bold" text-anchor="end" fill="#1c1c1c" stroke="#1c1c1c" stroke-width="0.276" stroke-linejoin="round">1.4</text>
<text x="385.35" y="459.10" font-size="4.6" font-weight="bold" text-anchor="middle" fill="#111" stroke="#111" stroke-width="0.276" stroke-linejoin="round">0</text>
<text x="401.47" y="459.10" font-size="4.6" font-weight="bold" text-anchor="middle" fill="#111" stroke="#111" stroke-width="0.276" stroke-linejoin="round">0.5</text>
<text x="417.59" y="459.10" font-size="4.6" font-weight="bold" text-anchor="middle" fill="#111" stroke="#111" stroke-width="0.276" stroke-linejoin="round">1</text>
<text x="433.71" y="459.10" font-size="4.6" font-weight="bold" text-anchor="middle" fill="#111" stroke="#111" stroke-width="0.276" stroke-linejoin="round">2.5</text>
<text x="449.83" y="459.10" font-size="4.6" font-weight="bold" text-anchor="middle" fill="#111" stroke="#111" stroke-width="0.276" stroke-linejoin="round">5</text>
<text x="465.95" y="459.10" font-size="4.6" font-weight="bold" text-anchor="middle" fill="#111" stroke="#111" stroke-width="0.276" stroke-linejoin="round">5-Aza</text>
<line x1="379.60" y1="461.20" x2="455.58" y2="461.20" stroke="#222" stroke-width="0.8"/>
<text x="424.80" y="467.30" font-size="5.4" font-weight="bold" text-anchor="middle" fill="#111" stroke="#111" stroke-width="0.324" stroke-linejoin="round">tBHQ (<tspan font-family="Liberation Serif, serif" font-weight="normal">&#956;</tspan>M)</text>
<text x="363.30" y="420.60" font-size="5.15" font-weight="bold" text-anchor="middle" fill="#111" transform="rotate(-90 363.30 420.60)" stroke="#111" stroke-width="0.309" stroke-linejoin="round">Fold over untreated</text>
<text x="20.40" y="483.60" font-size="12.1" font-weight="bold" text-anchor="start" fill="#111" stroke="#111" stroke-width="0.484" stroke-linejoin="round">F</text>
<text x="35.50" y="503.30" font-size="11.6" font-weight="normal" text-anchor="start" fill="#111" stroke="#111" stroke-width="0.255" stroke-linejoin="round">Necdin</text>
<rect x="34.30" y="595.49" width="16.60" height="8.61" fill="#ffffff" stroke="#1a1a1a" stroke-width="1.1"/>
<line x1="42.60" y1="594.26" x2="42.60" y2="596.72" stroke="#2a2a2a" stroke-width="0.8"/>
<line x1="38.60" y1="594.26" x2="46.60" y2="594.26" stroke="#2a2a2a" stroke-width="0.8"/>
<line x1="38.60" y1="596.72" x2="46.60" y2="596.72" stroke="#2a2a2a" stroke-width="0.8"/>
<rect x="52.30" y="590.82" width="16.60" height="13.28" fill="#8e8e8e" stroke="#1a1a1a" stroke-width="1.1"/>
<line x1="60.60" y1="590.20" x2="60.60" y2="591.43" stroke="#2a2a2a" stroke-width="0.8"/>
<line x1="56.60" y1="590.20" x2="64.60" y2="590.20" stroke="#2a2a2a" stroke-width="0.8"/>
<line x1="56.60" y1="591.43" x2="64.60" y2="591.43" stroke="#2a2a2a" stroke-width="0.8"/>
<rect x="77.40" y="591.68" width="16.60" height="12.42" fill="#ffffff" stroke="#1a1a1a" stroke-width="1.1"/>
<line x1="85.70" y1="584.30" x2="85.70" y2="599.06" stroke="#2a2a2a" stroke-width="0.8"/>
<line x1="81.70" y1="584.30" x2="89.70" y2="584.30" stroke="#2a2a2a" stroke-width="0.8"/>
<line x1="81.70" y1="599.06" x2="89.70" y2="599.06" stroke="#2a2a2a" stroke-width="0.8"/>
<rect x="95.40" y="593.03" width="16.60" height="11.07" fill="#8e8e8e" stroke="#1a1a1a" stroke-width="1.1"/>
<line x1="103.70" y1="592.73" x2="103.70" y2="593.33" stroke="#2a2a2a" stroke-width="0.8"/>
<line x1="99.70" y1="592.73" x2="107.70" y2="592.73" stroke="#2a2a2a" stroke-width="0.8"/>
<line x1="99.70" y1="593.33" x2="107.70" y2="593.33" stroke="#2a2a2a" stroke-width="0.8"/>
<rect x="120.50" y="589.34" width="16.60" height="14.76" fill="#ffffff" stroke="#1a1a1a" stroke-width="1.1"/>
<line x1="128.80" y1="586.88" x2="128.80" y2="591.80" stroke="#2a2a2a" stroke-width="0.8"/>
<line x1="124.80" y1="586.88" x2="132.80" y2="586.88" stroke="#2a2a2a" stroke-width="0.8"/>
<line x1="124.80" y1="591.80" x2="132.80" y2="591.80" stroke="#2a2a2a" stroke-width="0.8"/>
<rect x="138.50" y="595.98" width="16.60" height="8.12" fill="#8e8e8e" stroke="#1a1a1a" stroke-width="1.1"/>
<line x1="146.80" y1="592.78" x2="146.80" y2="599.18" stroke="#2a2a2a" stroke-width="0.8"/>
<line x1="142.80" y1="592.78" x2="150.80" y2="592.78" stroke="#2a2a2a" stroke-width="0.8"/>
<line x1="142.80" y1="599.18" x2="150.80" y2="599.18" stroke="#2a2a2a" stroke-width="0.8"/>
<line x1="30.40" y1="517.60" x2="30.40" y2="604.80" stroke="#111" stroke-width="1.3"/>
<line x1="29.80" y1="604.10" x2="160.80" y2="604.10" stroke="#111" stroke-width="1.4"/>
<line x1="27.10" y1="604.10" x2="30.40" y2="604.10" stroke="#111" stroke-width="0.9"/>
<text x="26.10" y="606.25" font-size="6.0" font-weight="bold" text-anchor="end" fill="#111" stroke="#111" stroke-width="0.240" stroke-linejoin="round">0</text>
<line x1="27.10" y1="591.80" x2="30.40" y2="591.80" stroke="#111" stroke-width="0.9"/>
<text x="26.10" y="593.95" font-size="6.0" font-weight="bold" text-anchor="end" fill="#111" stroke="#111" stroke-width="0.240" stroke-linejoin="round">5</text>
<line x1="27.10" y1="579.50" x2="30.40" y2="579.50" stroke="#111" stroke-width="0.9"/>
<text x="26.10" y="581.65" font-size="6.0" font-weight="bold" text-anchor="end" fill="#111" stroke="#111" stroke-width="0.240" stroke-linejoin="round">10</text>
<line x1="27.10" y1="567.20" x2="30.40" y2="567.20" stroke="#111" stroke-width="0.9"/>
<text x="26.10" y="569.35" font-size="6.0" font-weight="bold" text-anchor="end" fill="#111" stroke="#111" stroke-width="0.240" stroke-linejoin="round">15</text>
<line x1="27.10" y1="554.90" x2="30.40" y2="554.90" stroke="#111" stroke-width="0.9"/>
<text x="26.10" y="557.05" font-size="6.0" font-weight="bold" text-anchor="end" fill="#111" stroke="#111" stroke-width="0.240" stroke-linejoin="round">20</text>
<line x1="27.10" y1="542.60" x2="30.40" y2="542.60" stroke="#111" stroke-width="0.9"/>
<text x="26.10" y="544.75" font-size="6.0" font-weight="bold" text-anchor="end" fill="#111" stroke="#111" stroke-width="0.240" stroke-linejoin="round">25</text>
<line x1="27.10" y1="530.30" x2="30.40" y2="530.30" stroke="#111" stroke-width="0.9"/>
<text x="26.10" y="532.45" font-size="6.0" font-weight="bold" text-anchor="end" fill="#111" stroke="#111" stroke-width="0.240" stroke-linejoin="round">30</text>
<line x1="27.10" y1="518.00" x2="30.40" y2="518.00" stroke="#111" stroke-width="0.9"/>
<text x="26.10" y="520.15" font-size="6.0" font-weight="bold" text-anchor="end" fill="#111" stroke="#111" stroke-width="0.240" stroke-linejoin="round">35</text>
<text x="51.80" y="616.30" font-size="8.5" font-weight="normal" text-anchor="middle" fill="#111" stroke="#111" stroke-width="0.187" stroke-linejoin="round">0</text>
<text x="94.90" y="616.30" font-size="8.5" font-weight="normal" text-anchor="middle" fill="#111" stroke="#111" stroke-width="0.187" stroke-linejoin="round">1</text>
<text x="138.00" y="616.30" font-size="8.5" font-weight="normal" text-anchor="middle" fill="#111" stroke="#111" stroke-width="0.187" stroke-linejoin="round">5</text>
<line x1="41.50" y1="619.30" x2="148.80" y2="619.30" stroke="#111" stroke-width="1.2"/>
<text x="95.30" y="630.40" font-size="8.3" font-weight="normal" text-anchor="middle" fill="#111" stroke="#111" stroke-width="0.183" stroke-linejoin="round">tBHQ (<tspan font-family="Liberation Serif, serif" font-weight="normal">&#956;</tspan>M)</text>
<text x="15.30" y="561.80" font-size="6.9" font-weight="bold" text-anchor="middle" fill="#111" transform="rotate(-90 15.30 561.80)" stroke="#111" stroke-width="0.276" stroke-linejoin="round">Arbitrary Units</text>
<rect x="36.30" y="521.70" width="12.80" height="5.20" fill="#ffffff" stroke="#1a1a1a" stroke-width="0.9"/>
<rect x="36.30" y="531.90" width="12.80" height="5.20" fill="#8e8e8e" stroke="#1a1a1a" stroke-width="0.9"/>
<text x="50.70" y="526.60" font-size="6.4" font-weight="normal" text-anchor="start" fill="#111" stroke="#111" stroke-width="0.141" stroke-linejoin="round">IgG</text>
<text x="50.70" y="536.80" font-size="6.4" font-weight="normal" text-anchor="start" fill="#111" stroke="#111" stroke-width="0.141" stroke-linejoin="round">NRF2</text>
<text x="205.50" y="503.30" font-size="11.6" font-weight="normal" text-anchor="start" fill="#111" stroke="#111" stroke-width="0.255" stroke-linejoin="round">&#947;-globin</text>
<rect x="201.10" y="566.89" width="16.60" height="37.51" fill="#ffffff" stroke="#1a1a1a" stroke-width="1.1"/>
<line x1="209.40" y1="557.82" x2="209.40" y2="575.96" stroke="#2a2a2a" stroke-width="0.8"/>
<line x1="205.40" y1="557.82" x2="213.40" y2="557.82" stroke="#2a2a2a" stroke-width="0.8"/>
<line x1="205.40" y1="575.96" x2="213.40" y2="575.96" stroke="#2a2a2a" stroke-width="0.8"/>
<rect x="219.10" y="562.48" width="16.60" height="41.92" fill="#8e8e8e" stroke="#1a1a1a" stroke-width="1.1"/>
<line x1="227.40" y1="555.62" x2="227.40" y2="569.34" stroke="#2a2a2a" stroke-width="0.8"/>
<line x1="223.40" y1="555.62" x2="231.40" y2="555.62" stroke="#2a2a2a" stroke-width="0.8"/>
<line x1="223.40" y1="569.34" x2="231.40" y2="569.34" stroke="#2a2a2a" stroke-width="0.8"/>
<rect x="244.40" y="557.58" width="16.60" height="46.82" fill="#ffffff" stroke="#1a1a1a" stroke-width="1.1"/>
<line x1="252.70" y1="552.67" x2="252.70" y2="562.48" stroke="#2a2a2a" stroke-width="0.8"/>
<line x1="248.70" y1="552.67" x2="256.70" y2="552.67" stroke="#2a2a2a" stroke-width="0.8"/>
<line x1="248.70" y1="562.48" x2="256.70" y2="562.48" stroke="#2a2a2a" stroke-width="0.8"/>
<rect x="262.40" y="534.53" width="16.60" height="69.87" fill="#8e8e8e" stroke="#1a1a1a" stroke-width="1.1"/>
<line x1="270.70" y1="527.92" x2="270.70" y2="541.15" stroke="#2a2a2a" stroke-width="0.8"/>
<line x1="266.70" y1="527.92" x2="274.70" y2="527.92" stroke="#2a2a2a" stroke-width="0.8"/>
<line x1="266.70" y1="541.15" x2="274.70" y2="541.15" stroke="#2a2a2a" stroke-width="0.8"/>
<rect x="287.70" y="566.16" width="16.60" height="38.24" fill="#ffffff" stroke="#1a1a1a" stroke-width="1.1"/>
<line x1="296.00" y1="561.99" x2="296.00" y2="570.33" stroke="#2a2a2a" stroke-width="0.8"/>
<line x1="292.00" y1="561.99" x2="300.00" y2="561.99" stroke="#2a2a2a" stroke-width="0.8"/>
<line x1="292.00" y1="570.33" x2="300.00" y2="570.33" stroke="#2a2a2a" stroke-width="0.8"/>
<rect x="305.70" y="540.66" width="16.60" height="63.74" fill="#8e8e8e" stroke="#1a1a1a" stroke-width="1.1"/>
<line x1="314.00" y1="534.53" x2="314.00" y2="546.79" stroke="#2a2a2a" stroke-width="0.8"/>
<line x1="310.00" y1="534.53" x2="318.00" y2="534.53" stroke="#2a2a2a" stroke-width="0.8"/>
<line x1="310.00" y1="546.79" x2="318.00" y2="546.79" stroke="#2a2a2a" stroke-width="0.8"/>
<text x="271.00" y="521.30" font-size="9.0" font-weight="normal" text-anchor="middle" fill="#111" stroke="#111" stroke-width="0.198" stroke-linejoin="round">*</text>
<text x="314.00" y="529.70" font-size="9.0" font-weight="normal" text-anchor="middle" fill="#111" stroke="#111" stroke-width="0.198" stroke-linejoin="round">*</text>
<line x1="197.40" y1="518.20" x2="197.40" y2="605.10" stroke="#111" stroke-width="1.3"/>
<line x1="196.80" y1="604.40" x2="327.40" y2="604.40" stroke="#111" stroke-width="1.4"/>
<line x1="194.10" y1="604.40" x2="197.40" y2="604.40" stroke="#111" stroke-width="0.9"/>
<text x="193.10" y="606.55" font-size="6.0" font-weight="bold" text-anchor="end" fill="#111" stroke="#111" stroke-width="0.240" stroke-linejoin="round">0</text>
<line x1="194.10" y1="592.14" x2="197.40" y2="592.14" stroke="#111" stroke-width="0.9"/>
<text x="193.10" y="594.29" font-size="6.0" font-weight="bold" text-anchor="end" fill="#111" stroke="#111" stroke-width="0.240" stroke-linejoin="round">5</text>
<line x1="194.10" y1="579.89" x2="197.40" y2="579.89" stroke="#111" stroke-width="0.9"/>
<text x="193.10" y="582.04" font-size="6.0" font-weight="bold" text-anchor="end" fill="#111" stroke="#111" stroke-width="0.240" stroke-linejoin="round">10</text>
<line x1="194.10" y1="567.63" x2="197.40" y2="567.63" stroke="#111" stroke-width="0.9"/>
<text x="193.10" y="569.78" font-size="6.0" font-weight="bold" text-anchor="end" fill="#111" stroke="#111" stroke-width="0.240" stroke-linejoin="round">15</text>
<line x1="194.10" y1="555.37" x2="197.40" y2="555.37" stroke="#111" stroke-width="0.9"/>
<text x="193.10" y="557.52" font-size="6.0" font-weight="bold" text-anchor="end" fill="#111" stroke="#111" stroke-width="0.240" stroke-linejoin="round">20</text>
<line x1="194.10" y1="543.11" x2="197.40" y2="543.11" stroke="#111" stroke-width="0.9"/>
<text x="193.10" y="545.26" font-size="6.0" font-weight="bold" text-anchor="end" fill="#111" stroke="#111" stroke-width="0.240" stroke-linejoin="round">25</text>
<line x1="194.10" y1="530.86" x2="197.40" y2="530.86" stroke="#111" stroke-width="0.9"/>
<text x="193.10" y="533.01" font-size="6.0" font-weight="bold" text-anchor="end" fill="#111" stroke="#111" stroke-width="0.240" stroke-linejoin="round">30</text>
<line x1="194.10" y1="518.60" x2="197.40" y2="518.60" stroke="#111" stroke-width="0.9"/>
<text x="193.10" y="520.75" font-size="6.0" font-weight="bold" text-anchor="end" fill="#111" stroke="#111" stroke-width="0.240" stroke-linejoin="round">35</text>
<text x="218.90" y="616.90" font-size="8.5" font-weight="normal" text-anchor="middle" fill="#111" stroke="#111" stroke-width="0.187" stroke-linejoin="round">0</text>
<text x="262.20" y="616.90" font-size="8.5" font-weight="normal" text-anchor="middle" fill="#111" stroke="#111" stroke-width="0.187" stroke-linejoin="round">1</text>
<text x="305.50" y="616.90" font-size="8.5" font-weight="normal" text-anchor="middle" fill="#111" stroke="#111" stroke-width="0.187" stroke-linejoin="round">5</text>
<line x1="208.60" y1="619.66" x2="316.00" y2="619.66" stroke="#111" stroke-width="1.2"/>
<text x="261.50" y="630.40" font-size="8.3" font-weight="normal" text-anchor="middle" fill="#111" stroke="#111" stroke-width="0.183" stroke-linejoin="round">tBHQ (<tspan font-family="Liberation Serif, serif" font-weight="normal">&#956;</tspan>M)</text>
<text x="183.60" y="561.80" font-size="6.9" font-weight="bold" text-anchor="middle" fill="#111" transform="rotate(-90 183.60 561.80)" stroke="#111" stroke-width="0.276" stroke-linejoin="round">Arbitrary Units</text>
<rect x="202.70" y="519.90" width="12.80" height="5.20" fill="#ffffff" stroke="#1a1a1a" stroke-width="0.9"/>
<rect x="202.70" y="530.10" width="12.80" height="5.20" fill="#8e8e8e" stroke="#1a1a1a" stroke-width="0.9"/>
<text x="217.10" y="524.80" font-size="6.4" font-weight="normal" text-anchor="start" fill="#111" stroke="#111" stroke-width="0.141" stroke-linejoin="round">IgG</text>
<text x="217.10" y="535.00" font-size="6.4" font-weight="normal" text-anchor="start" fill="#111" stroke="#111" stroke-width="0.141" stroke-linejoin="round">NRF2</text>
<text x="379.20" y="503.30" font-size="11.6" font-weight="normal" text-anchor="start" fill="#111" stroke="#111" stroke-width="0.255" stroke-linejoin="round">NQO1</text>
<rect x="378.40" y="597.85" width="16.60" height="6.65" fill="#ffffff" stroke="#1a1a1a" stroke-width="1.1"/>
<line x1="386.70" y1="596.99" x2="386.70" y2="598.71" stroke="#2a2a2a" stroke-width="0.8"/>
<line x1="382.70" y1="596.99" x2="390.70" y2="596.99" stroke="#2a2a2a" stroke-width="0.8"/>
<line x1="382.70" y1="598.71" x2="390.70" y2="598.71" stroke="#2a2a2a" stroke-width="0.8"/>
<rect x="396.40" y="578.65" width="16.60" height="25.85" fill="#8e8e8e" stroke="#1a1a1a" stroke-width="1.1"/>
<line x1="404.70" y1="578.12" x2="404.70" y2="579.19" stroke="#2a2a2a" stroke-width="0.8"/>
<line x1="400.70" y1="578.12" x2="408.70" y2="578.12" stroke="#2a2a2a" stroke-width="0.8"/>
<line x1="400.70" y1="579.19" x2="408.70" y2="579.19" stroke="#2a2a2a" stroke-width="0.8"/>
<rect x="421.50" y="594.63" width="16.60" height="9.87" fill="#ffffff" stroke="#1a1a1a" stroke-width="1.1"/>
<line x1="429.80" y1="593.13" x2="429.80" y2="596.13" stroke="#2a2a2a" stroke-width="0.8"/>
<line x1="425.80" y1="593.13" x2="433.80" y2="593.13" stroke="#2a2a2a" stroke-width="0.8"/>
<line x1="425.80" y1="596.13" x2="433.80" y2="596.13" stroke="#2a2a2a" stroke-width="0.8"/>
<rect x="439.50" y="542.40" width="16.60" height="62.10" fill="#8e8e8e" stroke="#1a1a1a" stroke-width="1.1"/>
<line x1="447.80" y1="538.97" x2="447.80" y2="545.83" stroke="#2a2a2a" stroke-width="0.8"/>
<line x1="443.80" y1="538.97" x2="451.80" y2="538.97" stroke="#2a2a2a" stroke-width="0.8"/>
<line x1="443.80" y1="545.83" x2="451.80" y2="545.83" stroke="#2a2a2a" stroke-width="0.8"/>
<rect x="464.60" y="597.85" width="16.60" height="6.65" fill="#ffffff" stroke="#1a1a1a" stroke-width="1.1"/>
<line x1="472.90" y1="597.21" x2="472.90" y2="598.49" stroke="#2a2a2a" stroke-width="0.8"/>
<line x1="468.90" y1="597.21" x2="476.90" y2="597.21" stroke="#2a2a2a" stroke-width="0.8"/>
<line x1="468.90" y1="598.49" x2="476.90" y2="598.49" stroke="#2a2a2a" stroke-width="0.8"/>
<rect x="482.60" y="534.36" width="16.60" height="70.14" fill="#8e8e8e" stroke="#1a1a1a" stroke-width="1.1"/>
<line x1="490.90" y1="527.28" x2="490.90" y2="541.44" stroke="#2a2a2a" stroke-width="0.8"/>
<line x1="486.90" y1="527.28" x2="494.90" y2="527.28" stroke="#2a2a2a" stroke-width="0.8"/>
<line x1="486.90" y1="541.44" x2="494.90" y2="541.44" stroke="#2a2a2a" stroke-width="0.8"/>
<text x="447.70" y="531.30" font-size="9.0" font-weight="normal" text-anchor="middle" fill="#111" stroke="#111" stroke-width="0.198" stroke-linejoin="round">*</text>
<text x="490.40" y="521.30" font-size="9.0" font-weight="normal" text-anchor="middle" fill="#111" stroke="#111" stroke-width="0.198" stroke-linejoin="round">*</text>
<line x1="374.30" y1="518.30" x2="374.30" y2="605.20" stroke="#111" stroke-width="1.3"/>
<line x1="373.70" y1="604.50" x2="504.00" y2="604.50" stroke="#111" stroke-width="1.4"/>
<line x1="371.00" y1="604.50" x2="374.30" y2="604.50" stroke="#111" stroke-width="0.9"/>
<text x="370.00" y="606.65" font-size="6.0" font-weight="bold" text-anchor="end" fill="#111" stroke="#111" stroke-width="0.240" stroke-linejoin="round">0</text>
<line x1="371.00" y1="583.05" x2="374.30" y2="583.05" stroke="#111" stroke-width="0.9"/>
<text x="370.00" y="585.20" font-size="6.0" font-weight="bold" text-anchor="end" fill="#111" stroke="#111" stroke-width="0.240" stroke-linejoin="round">100</text>
<line x1="371.00" y1="561.60" x2="374.30" y2="561.60" stroke="#111" stroke-width="0.9"/>
<text x="370.00" y="563.75" font-size="6.0" font-weight="bold" text-anchor="end" fill="#111" stroke="#111" stroke-width="0.240" stroke-linejoin="round">200</text>
<line x1="371.00" y1="540.15" x2="374.30" y2="540.15" stroke="#111" stroke-width="0.9"/>
<text x="370.00" y="542.30" font-size="6.0" font-weight="bold" text-anchor="end" fill="#111" stroke="#111" stroke-width="0.240" stroke-linejoin="round">300</text>
<line x1="371.00" y1="518.70" x2="374.30" y2="518.70" stroke="#111" stroke-width="0.9"/>
<text x="370.00" y="520.85" font-size="6.0" font-weight="bold" text-anchor="end" fill="#111" stroke="#111" stroke-width="0.240" stroke-linejoin="round">400</text>
<text x="396.10" y="617.00" font-size="8.5" font-weight="normal" text-anchor="middle" fill="#111" stroke="#111" stroke-width="0.187" stroke-linejoin="round">0</text>
<text x="439.20" y="617.00" font-size="8.5" font-weight="normal" text-anchor="middle" fill="#111" stroke="#111" stroke-width="0.187" stroke-linejoin="round">1</text>
<text x="482.30" y="617.00" font-size="8.5" font-weight="normal" text-anchor="middle" fill="#111" stroke="#111" stroke-width="0.187" stroke-linejoin="round">5</text>
<line x1="386.00" y1="619.72" x2="492.00" y2="619.72" stroke="#111" stroke-width="1.2"/>
<text x="439.20" y="630.40" font-size="8.3" font-weight="normal" text-anchor="middle" fill="#111" stroke="#111" stroke-width="0.183" stroke-linejoin="round">tBHQ (<tspan font-family="Liberation Serif, serif" font-weight="normal">&#956;</tspan>M)</text>
<text x="355.00" y="561.80" font-size="6.9" font-weight="bold" text-anchor="middle" fill="#111" transform="rotate(-90 355.00 561.80)" stroke="#111" stroke-width="0.276" stroke-linejoin="round">Arbitrary Units</text>
<rect x="380.40" y="522.40" width="12.80" height="5.20" fill="#ffffff" stroke="#1a1a1a" stroke-width="0.9"/>
<rect x="380.40" y="532.60" width="12.80" height="5.20" fill="#8e8e8e" stroke="#1a1a1a" stroke-width="0.9"/>
<text x="394.80" y="527.30" font-size="6.4" font-weight="normal" text-anchor="start" fill="#111" stroke="#111" stroke-width="0.141" stroke-linejoin="round">IgG</text>
<text x="394.80" y="537.50" font-size="6.4" font-weight="normal" text-anchor="start" fill="#111" stroke="#111" stroke-width="0.141" stroke-linejoin="round">NRF2</text>
</g>
</svg>
</body></html>
